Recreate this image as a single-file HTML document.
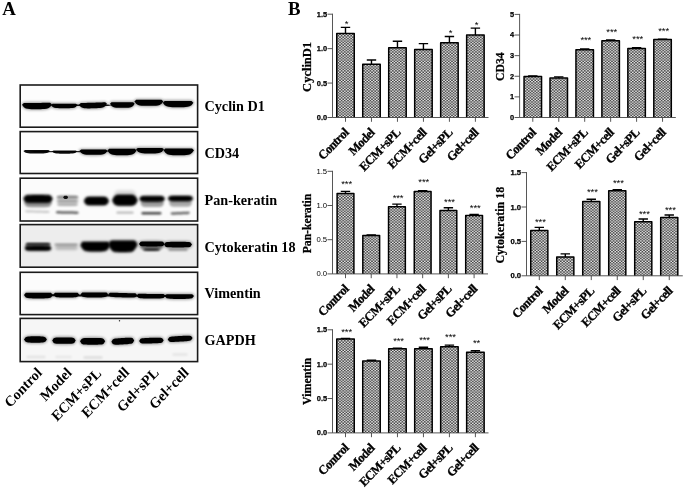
<!DOCTYPE html>
<html><head><meta charset="utf-8"><title>Figure</title>
<style>html,body{margin:0;padding:0;background:#fff}svg{display:block}.s{font-family:"Liberation Serif",serif;font-weight:bold;fill:#000}.a{font-family:"Liberation Sans",sans-serif;font-weight:bold;fill:#000}</style></head><body>
<svg width="685" height="488" viewBox="0 0 685 488">
<defs>
<pattern id="h" width="3.2" height="2.7" patternUnits="userSpaceOnUse"><rect width="3.2" height="2.7" fill="#b0b0b0"/><rect x="0.15" y="0.08" width="1.3" height="1.2" fill="#fff"/><rect x="1.75" y="1.43" width="1.3" height="1.2" fill="#fff"/><rect x="1.75" y="0.08" width="1.3" height="1.2" fill="#161616"/><rect x="0.15" y="1.43" width="1.3" height="1.2" fill="#161616"/></pattern>
<filter id="b0" filterUnits="userSpaceOnUse" x="0" y="60" width="220" height="320"><feGaussianBlur stdDeviation="0.75"/></filter>
<filter id="b1" filterUnits="userSpaceOnUse" x="0" y="60" width="220" height="320"><feGaussianBlur stdDeviation="1.0"/></filter>
<filter id="b2" filterUnits="userSpaceOnUse" x="0" y="60" width="220" height="320"><feGaussianBlur stdDeviation="1.8"/></filter>
<filter id="b3" filterUnits="userSpaceOnUse" x="0" y="60" width="220" height="320"><feGaussianBlur stdDeviation="2.5"/></filter>
</defs>
<rect width="685" height="488" fill="#fff"/>
<text class="s" x="2.2" y="14.6" font-size="18.8">A</text>
<text class="s" x="288.1" y="14.6" font-size="18.8">B</text>
<rect x="20.2" y="85" width="177.4" height="42.2" fill="#fdfdfd"/>
<clipPath id="c0"><rect x="20.2" y="85" width="177.4" height="42.2"/></clipPath>
<g clip-path="url(#c0)">
<path d="M22.0 104.73L23.9 102.99L25.8 102.98L27.6 102.96L29.5 102.95L31.4 102.94L33.2 102.93L35.1 102.91L37.0 102.90L38.9 102.89L40.8 102.88L42.6 102.86L44.5 102.85L46.4 102.84L48.2 102.83L50.1 102.81L52.0 104.53L52.0 104.53L50.1 107.05L48.2 108.23L46.4 108.70L44.5 108.97L42.6 109.11L40.8 109.16L38.9 109.19L37.0 109.20L35.1 109.21L33.2 109.21L31.4 109.18L29.5 109.07L27.6 108.83L25.8 108.38L23.9 107.23L22.0 104.73Z" fill="#000" stroke="#000" stroke-width="1.2" opacity="0.45" filter="url(#b2)"/>
<path d="M22.0 104.73L23.9 102.99L25.8 102.98L27.6 102.96L29.5 102.95L31.4 102.94L33.2 102.93L35.1 102.91L37.0 102.90L38.9 102.89L40.8 102.88L42.6 102.86L44.5 102.85L46.4 102.84L48.2 102.83L50.1 102.81L52.0 104.53L52.0 104.53L50.1 107.05L48.2 108.23L46.4 108.70L44.5 108.97L42.6 109.11L40.8 109.16L38.9 109.19L37.0 109.20L35.1 109.21L33.2 109.21L31.4 109.18L29.5 109.07L27.6 108.83L25.8 108.38L23.9 107.23L22.0 104.73Z" fill="#000" opacity="1" filter="url(#b0)"/>
<path d="M51.0 105.12L52.7 103.80L54.3 103.80L56.0 103.80L57.6 103.80L59.3 103.80L60.9 103.80L62.6 103.80L64.2 103.80L65.9 103.80L67.6 103.80L69.2 103.80L70.9 103.80L72.5 103.80L74.2 103.80L75.8 103.80L77.5 105.12L77.5 105.12L75.8 107.06L74.2 107.64L72.5 107.93L70.9 108.09L69.2 108.17L67.6 108.19L65.9 108.20L64.2 108.20L62.6 108.20L60.9 108.19L59.3 108.17L57.6 108.09L56.0 107.93L54.3 107.64L52.7 107.06L51.0 105.12Z" fill="#000" stroke="#000" stroke-width="1.2" opacity="0.45" filter="url(#b2)"/>
<path d="M51.0 105.12L52.7 103.80L54.3 103.80L56.0 103.80L57.6 103.80L59.3 103.80L60.9 103.80L62.6 103.80L64.2 103.80L65.9 103.80L67.6 103.80L69.2 103.80L70.9 103.80L72.5 103.80L74.2 103.80L75.8 103.80L77.5 105.12L77.5 105.12L75.8 107.06L74.2 107.64L72.5 107.93L70.9 108.09L69.2 108.17L67.6 108.19L65.9 108.20L64.2 108.20L62.6 108.20L60.9 108.19L59.3 108.17L57.6 108.09L56.0 107.93L54.3 107.64L52.7 107.06L51.0 105.12Z" fill="#000" opacity="1" filter="url(#b0)"/>
<path d="M79.0 104.69L80.8 103.09L82.5 103.04L84.2 102.98L86.0 102.92L87.8 102.87L89.5 102.81L91.2 102.76L93.0 102.70L94.8 102.64L96.5 102.59L98.2 102.53L100.0 102.48L101.8 102.42L103.5 102.36L105.2 102.31L107.0 103.79L107.0 103.79L105.2 106.13L103.5 107.17L101.8 107.63L100.0 107.92L98.2 108.08L96.5 108.18L94.8 108.24L93.0 108.30L91.2 108.36L89.5 108.40L87.8 108.42L86.0 108.37L84.2 108.20L82.5 107.84L80.8 106.92L79.0 104.69Z" fill="#000" stroke="#000" stroke-width="1.2" opacity="0.45" filter="url(#b2)"/>
<path d="M79.0 104.69L80.8 103.09L82.5 103.04L84.2 102.98L86.0 102.92L87.8 102.87L89.5 102.81L91.2 102.76L93.0 102.70L94.8 102.64L96.5 102.59L98.2 102.53L100.0 102.48L101.8 102.42L103.5 102.36L105.2 102.31L107.0 103.79L107.0 103.79L105.2 106.13L103.5 107.17L101.8 107.63L100.0 107.92L98.2 108.08L96.5 108.18L94.8 108.24L93.0 108.30L91.2 108.36L89.5 108.40L87.8 108.42L86.0 108.37L84.2 108.20L82.5 107.84L80.8 106.92L79.0 104.69Z" fill="#000" opacity="1" filter="url(#b0)"/>
<path d="M110.0 103.74L111.5 102.20L113.1 102.20L114.6 102.20L116.2 102.20L117.7 102.20L119.2 102.20L120.8 102.20L122.3 102.20L123.8 102.20L125.4 102.20L126.9 102.20L128.4 102.20L130.0 102.20L131.5 102.20L133.1 102.20L134.6 103.74L134.6 103.74L133.1 105.88L131.5 107.00L130.0 107.42L128.4 107.64L126.9 107.75L125.4 107.79L123.8 107.80L122.3 107.80L120.8 107.80L119.2 107.79L117.7 107.75L116.2 107.64L114.6 107.42L113.1 107.00L111.5 105.88L110.0 103.74Z" fill="#000" stroke="#000" stroke-width="1.2" opacity="0.45" filter="url(#b2)"/>
<path d="M110.0 103.74L111.5 102.20L113.1 102.20L114.6 102.20L116.2 102.20L117.7 102.20L119.2 102.20L120.8 102.20L122.3 102.20L123.8 102.20L125.4 102.20L126.9 102.20L128.4 102.20L130.0 102.20L131.5 102.20L133.1 102.20L134.6 103.74L134.6 103.74L133.1 105.88L131.5 107.00L130.0 107.42L128.4 107.64L126.9 107.75L125.4 107.79L123.8 107.80L122.3 107.80L120.8 107.80L119.2 107.79L117.7 107.75L116.2 107.64L114.6 107.42L113.1 107.00L111.5 105.88L110.0 103.74Z" fill="#000" opacity="1" filter="url(#b0)"/>
<path d="M134.4 101.45L136.2 99.80L138.0 99.80L139.8 99.80L141.6 99.80L143.4 99.80L145.2 99.80L147.0 99.80L148.9 99.80L150.7 99.80L152.5 99.80L154.3 99.80L156.1 99.80L157.9 99.80L159.7 99.80L161.5 99.80L163.3 101.45L163.3 101.45L161.5 103.85L159.7 104.95L157.9 105.39L156.1 105.63L154.3 105.75L152.5 105.79L150.7 105.80L148.9 105.80L147.0 105.80L145.2 105.79L143.4 105.75L141.6 105.63L139.8 105.39L138.0 104.95L136.2 103.85L134.4 101.45Z" fill="#000" stroke="#000" stroke-width="1.2" opacity="0.45" filter="url(#b2)"/>
<path d="M134.4 101.45L136.2 99.80L138.0 99.80L139.8 99.80L141.6 99.80L143.4 99.80L145.2 99.80L147.0 99.80L148.9 99.80L150.7 99.80L152.5 99.80L154.3 99.80L156.1 99.80L157.9 99.80L159.7 99.80L161.5 99.80L163.3 101.45L163.3 101.45L161.5 103.85L159.7 104.95L157.9 105.39L156.1 105.63L154.3 105.75L152.5 105.79L150.7 105.80L148.9 105.80L147.0 105.80L145.2 105.79L143.4 105.75L141.6 105.63L139.8 105.39L138.0 104.95L136.2 103.85L134.4 101.45Z" fill="#000" opacity="1" filter="url(#b0)"/>
<path d="M162.8 102.63L164.7 100.90L166.6 100.90L168.5 100.90L170.5 100.90L172.4 100.90L174.3 100.90L176.2 100.90L178.1 100.90L180.0 100.90L181.9 100.90L183.8 100.90L185.8 100.90L187.7 100.90L189.6 100.90L191.5 100.90L193.4 102.63L193.4 102.63L191.5 105.17L189.6 106.30L187.7 106.77L185.8 107.02L183.8 107.14L181.9 107.19L180.0 107.20L178.1 107.20L176.2 107.20L174.3 107.19L172.4 107.14L170.5 107.02L168.5 106.77L166.6 106.30L164.7 105.17L162.8 102.63Z" fill="#000" stroke="#000" stroke-width="1.2" opacity="0.45" filter="url(#b2)"/>
<path d="M162.8 102.63L164.7 100.90L166.6 100.90L168.5 100.90L170.5 100.90L172.4 100.90L174.3 100.90L176.2 100.90L178.1 100.90L180.0 100.90L181.9 100.90L183.8 100.90L185.8 100.90L187.7 100.90L189.6 100.90L191.5 100.90L193.4 102.63L193.4 102.63L191.5 105.17L189.6 106.30L187.7 106.77L185.8 107.02L183.8 107.14L181.9 107.19L180.0 107.20L178.1 107.20L176.2 107.20L174.3 107.19L172.4 107.14L170.5 107.02L168.5 106.77L166.6 106.30L164.7 105.17L162.8 102.63Z" fill="#000" opacity="1" filter="url(#b0)"/>
<path d="M50.0 105.20L53.9 104.40L57.8 104.40L61.6 104.40L65.5 104.40L69.4 104.40L73.2 104.40L77.1 104.40L81.0 104.40L84.9 104.40L88.8 104.40L92.6 104.40L96.5 104.40L100.4 104.40L104.2 104.40L108.1 104.40L112.0 105.20L112.0 105.20L108.1 106.00L104.2 106.00L100.4 106.00L96.5 106.00L92.6 106.00L88.8 106.00L84.9 106.00L81.0 106.00L77.1 106.00L73.2 106.00L69.4 106.00L65.5 106.00L61.6 106.00L57.8 106.00L53.9 106.00L50.0 105.20Z" fill="#000" opacity="0.9" filter="url(#b0)"/>
</g>
<rect x="20.2" y="85" width="177.4" height="42.2" fill="none" stroke="#1a1a1a" stroke-width="1.6"/>
<text class="s" transform="translate(204.5,111.4) scale(1,1.06)" font-size="14.2">Cyclin D1</text>
<rect x="20.2" y="131.6" width="177.4" height="41.900000000000006" fill="#fdfdfd"/>
<clipPath id="c1"><rect x="20.2" y="131.6" width="177.4" height="41.900000000000006"/></clipPath>
<g clip-path="url(#c1)">
<path d="M23.4 150.96L25.1 150.00L26.7 150.00L28.4 150.00L30.0 150.00L31.7 150.00L33.4 150.00L35.0 150.00L36.7 150.00L38.4 150.00L40.0 150.00L41.7 150.00L43.4 150.00L45.0 150.00L46.7 150.00L48.3 150.00L50.0 150.96L50.0 150.96L48.3 152.57L46.7 153.00L45.0 153.26L43.4 153.40L41.7 153.47L40.0 153.49L38.4 153.50L36.7 153.50L35.0 153.50L33.4 153.49L31.7 153.47L30.0 153.40L28.4 153.26L26.7 153.00L25.1 152.57L23.4 150.96Z" fill="#000" opacity="0.95" filter="url(#b0)"/>
<path d="M52.0 151.31L53.6 150.40L55.1 150.40L56.7 150.40L58.3 150.40L59.9 150.40L61.5 150.40L63.0 150.40L64.6 150.40L66.2 150.40L67.8 150.40L69.3 150.40L70.9 150.40L72.5 150.40L74.1 150.40L75.6 150.40L77.2 151.31L77.2 151.31L75.6 152.83L74.1 153.23L72.5 153.47L70.9 153.61L69.3 153.67L67.8 153.69L66.2 153.70L64.6 153.70L63.0 153.70L61.5 153.69L59.9 153.67L58.3 153.61L56.7 153.47L55.1 153.23L53.6 152.83L52.0 151.31Z" fill="#000" opacity="0.95" filter="url(#b0)"/>
<path d="M79.5 150.82L81.3 149.50L83.0 149.50L84.8 149.50L86.5 149.50L88.3 149.50L90.0 149.50L91.8 149.50L93.5 149.50L95.3 149.50L97.1 149.50L98.8 149.50L100.6 149.50L102.3 149.50L104.1 149.50L105.8 149.50L107.6 150.82L107.6 150.82L105.8 153.03L104.1 153.96L102.3 154.40L100.6 154.63L98.8 154.75L97.1 154.79L95.3 154.80L93.5 154.80L91.8 154.80L90.0 154.79L88.3 154.75L86.5 154.63L84.8 154.40L83.0 153.96L81.3 153.03L79.5 150.82Z" fill="#000" stroke="#000" stroke-width="1.2" opacity="0.45" filter="url(#b2)"/>
<path d="M79.5 150.82L81.3 149.50L83.0 149.50L84.8 149.50L86.5 149.50L88.3 149.50L90.0 149.50L91.8 149.50L93.5 149.50L95.3 149.50L97.1 149.50L98.8 149.50L100.6 149.50L102.3 149.50L104.1 149.50L105.8 149.50L107.6 150.82L107.6 150.82L105.8 153.03L104.1 153.96L102.3 154.40L100.6 154.63L98.8 154.75L97.1 154.79L95.3 154.80L93.5 154.80L91.8 154.80L90.0 154.79L88.3 154.75L86.5 154.63L84.8 154.40L83.0 153.96L81.3 153.03L79.5 150.82Z" fill="#000" opacity="1" filter="url(#b0)"/>
<path d="M107.4 150.40L109.2 148.80L111.1 148.80L112.9 148.80L114.7 148.80L116.5 148.80L118.3 148.80L120.2 148.80L122.0 148.80L123.8 148.80L125.7 148.80L127.5 148.80L129.3 148.80L131.1 148.80L132.9 148.80L134.8 148.80L136.6 150.40L136.6 150.40L134.8 152.89L132.9 154.19L131.1 154.71L129.3 155.00L127.5 155.14L125.7 155.19L123.8 155.20L122.0 155.20L120.2 155.20L118.3 155.19L116.5 155.14L114.7 155.00L112.9 154.71L111.1 154.19L109.2 152.89L107.4 150.40Z" fill="#000" stroke="#000" stroke-width="1.2" opacity="0.45" filter="url(#b2)"/>
<path d="M107.4 150.40L109.2 148.80L111.1 148.80L112.9 148.80L114.7 148.80L116.5 148.80L118.3 148.80L120.2 148.80L122.0 148.80L123.8 148.80L125.7 148.80L127.5 148.80L129.3 148.80L131.1 148.80L132.9 148.80L134.8 148.80L136.6 150.40L136.6 150.40L134.8 152.89L132.9 154.19L131.1 154.71L129.3 155.00L127.5 155.14L125.7 155.19L123.8 155.20L122.0 155.20L120.2 155.20L118.3 155.19L116.5 155.14L114.7 155.00L112.9 154.71L111.1 154.19L109.2 152.89L107.4 150.40Z" fill="#000" opacity="1" filter="url(#b0)"/>
<path d="M136.0 149.30L137.8 147.90L139.5 147.90L141.2 147.90L143.0 147.90L144.8 147.90L146.5 147.90L148.2 147.90L150.0 147.90L151.8 147.90L153.5 147.90L155.2 147.90L157.0 147.90L158.8 147.90L160.5 147.90L162.2 147.90L164.0 149.30L164.0 149.30L162.2 151.57L160.5 152.61L158.8 153.07L157.0 153.33L155.2 153.44L153.5 153.49L151.8 153.50L150.0 153.50L148.2 153.50L146.5 153.49L144.8 153.44L143.0 153.33L141.2 153.07L139.5 152.61L137.8 151.57L136.0 149.30Z" fill="#000" stroke="#000" stroke-width="1.2" opacity="0.45" filter="url(#b2)"/>
<path d="M136.0 149.30L137.8 147.90L139.5 147.90L141.2 147.90L143.0 147.90L144.8 147.90L146.5 147.90L148.2 147.90L150.0 147.90L151.8 147.90L153.5 147.90L155.2 147.90L157.0 147.90L158.8 147.90L160.5 147.90L162.2 147.90L164.0 149.30L164.0 149.30L162.2 151.57L160.5 152.61L158.8 153.07L157.0 153.33L155.2 153.44L153.5 153.49L151.8 153.50L150.0 153.50L148.2 153.50L146.5 153.49L144.8 153.44L143.0 153.33L141.2 153.07L139.5 152.61L137.8 151.57L136.0 149.30Z" fill="#000" opacity="1" filter="url(#b0)"/>
<path d="M163.5 150.18L165.4 148.50L167.3 148.50L169.2 148.50L171.1 148.50L173.0 148.50L174.9 148.50L176.8 148.50L178.8 148.50L180.7 148.50L182.6 148.50L184.5 148.50L186.4 148.50L188.3 148.50L190.2 148.50L192.1 148.50L194.0 150.18L194.0 150.18L192.1 152.77L190.2 154.14L188.3 154.69L186.4 154.99L184.5 155.13L182.6 155.19L180.7 155.20L178.8 155.20L176.8 155.20L174.9 155.19L173.0 155.13L171.1 154.99L169.2 154.69L167.3 154.14L165.4 152.77L163.5 150.18Z" fill="#000" stroke="#000" stroke-width="1.2" opacity="0.45" filter="url(#b2)"/>
<path d="M163.5 150.18L165.4 148.50L167.3 148.50L169.2 148.50L171.1 148.50L173.0 148.50L174.9 148.50L176.8 148.50L178.8 148.50L180.7 148.50L182.6 148.50L184.5 148.50L186.4 148.50L188.3 148.50L190.2 148.50L192.1 148.50L194.0 150.18L194.0 150.18L192.1 152.77L190.2 154.14L188.3 154.69L186.4 154.99L184.5 155.13L182.6 155.19L180.7 155.20L178.8 155.20L176.8 155.20L174.9 155.19L173.0 155.13L171.1 154.99L169.2 154.69L167.3 154.14L165.4 152.77L163.5 150.18Z" fill="#000" opacity="1" filter="url(#b0)"/>
<path d="M30.0 151.60L35.0 150.90L40.0 150.90L45.0 150.90L50.0 150.90L55.0 150.90L60.0 150.90L65.0 150.90L70.0 150.90L75.0 150.90L80.0 150.90L85.0 150.90L90.0 150.90L95.0 150.90L100.0 150.90L105.0 150.90L110.0 151.60L110.0 151.60L105.0 152.30L100.0 152.30L95.0 152.30L90.0 152.30L85.0 152.30L80.0 152.30L75.0 152.30L70.0 152.30L65.0 152.30L60.0 152.30L55.0 152.30L50.0 152.30L45.0 152.30L40.0 152.30L35.0 152.30L30.0 151.60Z" fill="#000" opacity="0.85" filter="url(#b0)"/>
</g>
<rect x="20.2" y="131.6" width="177.4" height="41.900000000000006" fill="none" stroke="#1a1a1a" stroke-width="1.6"/>
<text class="s" transform="translate(204.5,157.9) scale(1,1.06)" font-size="14.2">CD34</text>
<rect x="20.2" y="178.2" width="177.4" height="42.80000000000001" fill="#fbfbfb"/>
<clipPath id="c2"><rect x="20.2" y="178.2" width="177.4" height="42.80000000000001"/></clipPath>
<g clip-path="url(#c2)">
<path d="M23.6 198.80L25.4 196.00L27.2 195.34L29.0 195.21L30.8 195.15L32.6 195.11L34.4 195.10L36.2 195.10L38.0 195.10L39.8 195.10L41.6 195.10L43.4 195.11L45.2 195.15L47.0 195.21L48.8 195.34L50.6 196.00L52.4 198.80L52.4 198.80L50.6 201.60L48.8 202.26L47.0 202.39L45.2 202.45L43.4 202.49L41.6 202.50L39.8 202.50L38.0 202.50L36.2 202.50L34.4 202.50L32.6 202.49L30.8 202.45L29.0 202.39L27.2 202.26L25.4 201.60L23.6 198.80Z" fill="#000" stroke="#000" stroke-width="1.2" opacity="0.45" filter="url(#b2)"/>
<path d="M23.6 198.80L25.4 196.00L27.2 195.34L29.0 195.21L30.8 195.15L32.6 195.11L34.4 195.10L36.2 195.10L38.0 195.10L39.8 195.10L41.6 195.10L43.4 195.11L45.2 195.15L47.0 195.21L48.8 195.34L50.6 196.00L52.4 198.80L52.4 198.80L50.6 201.60L48.8 202.26L47.0 202.39L45.2 202.45L43.4 202.49L41.6 202.50L39.8 202.50L38.0 202.50L36.2 202.50L34.4 202.50L32.6 202.49L30.8 202.45L29.0 202.39L27.2 202.26L25.4 201.60L23.6 198.80Z" fill="#000" opacity="1" filter="url(#b1)"/>
<path d="M24.0 203.00L25.8 199.97L27.5 199.08L29.2 198.88L31.0 198.80L32.8 198.77L34.5 198.75L36.2 198.75L38.0 198.75L39.8 198.75L41.5 198.75L43.2 198.77L45.0 198.80L46.8 198.88L48.5 199.08L50.2 199.97L52.0 203.00L52.0 203.00L50.2 206.03L48.5 206.92L46.8 207.12L45.0 207.20L43.2 207.23L41.5 207.25L39.8 207.25L38.0 207.25L36.2 207.25L34.5 207.25L32.8 207.23L31.0 207.20L29.2 207.12L27.5 206.92L25.8 206.03L24.0 203.00Z" fill="#000" opacity="0.42" filter="url(#b1)"/>
<path d="M56.5 197.10L57.9 195.80L59.2 195.80L60.6 195.80L62.0 195.80L63.4 195.80L64.8 195.80L66.1 195.80L67.5 195.80L68.9 195.80L70.2 195.80L71.6 195.80L73.0 195.80L74.4 195.80L75.8 195.80L77.1 195.80L78.5 197.10L78.5 197.10L77.1 198.40L75.8 198.40L74.4 198.40L73.0 198.40L71.6 198.40L70.2 198.40L68.9 198.40L67.5 198.40L66.1 198.40L64.8 198.40L63.4 198.40L62.0 198.40L60.6 198.40L59.2 198.40L57.9 198.40L56.5 197.10Z" fill="#000" opacity="0.42" filter="url(#b1)"/>
<path d="M57.0 201.20L58.3 200.05L59.6 200.05L60.9 200.05L62.2 200.05L63.6 200.05L64.9 200.05L66.2 200.05L67.5 200.05L68.8 200.05L70.1 200.05L71.4 200.05L72.8 200.05L74.1 200.05L75.4 200.05L76.7 200.05L78.0 201.20L78.0 201.20L76.7 202.35L75.4 202.35L74.1 202.35L72.8 202.35L71.4 202.35L70.1 202.35L68.8 202.35L67.5 202.35L66.2 202.35L64.9 202.35L63.6 202.35L62.2 202.35L60.9 202.35L59.6 202.35L58.3 202.35L57.0 201.20Z" fill="#000" opacity="0.3" filter="url(#b1)"/>
<path d="M57.0 204.60L58.3 203.45L59.6 203.45L60.9 203.45L62.2 203.45L63.6 203.45L64.9 203.45L66.2 203.45L67.5 203.45L68.8 203.45L70.1 203.45L71.4 203.45L72.8 203.45L74.1 203.45L75.4 203.45L76.7 203.45L78.0 204.60L78.0 204.60L76.7 205.75L75.4 205.75L74.1 205.75L72.8 205.75L71.4 205.75L70.1 205.75L68.8 205.75L67.5 205.75L66.2 205.75L64.9 205.75L63.6 205.75L62.2 205.75L60.9 205.75L59.6 205.75L58.3 205.75L57.0 204.60Z" fill="#000" opacity="0.28" filter="url(#b1)"/>
<path d="M56.0 200.50L57.4 197.40L58.9 196.26L60.3 195.70L61.8 195.56L63.2 195.52L64.6 195.50L66.1 195.50L67.5 195.50L68.9 195.50L70.4 195.50L71.8 195.52L73.2 195.56L74.7 195.70L76.1 196.26L77.6 197.40L79.0 200.50L79.0 200.50L77.6 203.60L76.1 204.74L74.7 205.30L73.2 205.44L71.8 205.48L70.4 205.50L68.9 205.50L67.5 205.50L66.1 205.50L64.6 205.50L63.2 205.48L61.8 205.44L60.3 205.30L58.9 204.74L57.4 203.60L56.0 200.50Z" fill="#000" opacity="0.12" filter="url(#b2)"/>
<path d="M63.4 197.30L63.7 196.39L64.0 196.08L64.2 195.89L64.5 195.77L64.8 195.71L65.1 195.70L65.4 195.70L65.7 195.70L65.9 195.70L66.2 195.70L66.5 195.71L66.8 195.77L67.1 195.89L67.3 196.08L67.6 196.39L67.9 197.30L67.9 197.30L67.6 198.21L67.3 198.52L67.1 198.71L66.8 198.83L66.5 198.89L66.2 198.90L65.9 198.90L65.7 198.90L65.4 198.90L65.1 198.90L64.8 198.89L64.5 198.83L64.2 198.71L64.0 198.52L63.7 198.21L63.4 197.30Z" fill="#000" opacity="0.9" filter="url(#b0)"/>
<path d="M84.2 201.00L85.7 198.18L87.2 197.29L88.8 197.03L90.3 196.95L91.8 196.92L93.3 196.90L94.9 196.90L96.4 196.90L97.9 196.90L99.5 196.90L101.0 196.92L102.5 196.95L104.0 197.03L105.5 197.29L107.1 198.18L108.6 201.00L108.6 201.00L107.1 203.82L105.5 204.71L104.0 204.97L102.5 205.05L101.0 205.08L99.5 205.10L97.9 205.10L96.4 205.10L94.9 205.10L93.3 205.10L91.8 205.08L90.3 205.05L88.8 204.97L87.2 204.71L85.7 203.82L84.2 201.00Z" fill="#000" stroke="#000" stroke-width="1.2" opacity="0.45" filter="url(#b2)"/>
<path d="M84.2 201.00L85.7 198.18L87.2 197.29L88.8 197.03L90.3 196.95L91.8 196.92L93.3 196.90L94.9 196.90L96.4 196.90L97.9 196.90L99.5 196.90L101.0 196.92L102.5 196.95L104.0 197.03L105.5 197.29L107.1 198.18L108.6 201.00L108.6 201.00L107.1 203.82L105.5 204.71L104.0 204.97L102.5 205.05L101.0 205.08L99.5 205.10L97.9 205.10L96.4 205.10L94.9 205.10L93.3 205.10L91.8 205.08L90.3 205.05L88.8 204.97L87.2 204.71L85.7 203.82L84.2 201.00Z" fill="#000" opacity="1" filter="url(#b1)"/>
<path d="M112.6 200.20L114.1 196.90L115.7 195.69L117.2 195.11L118.8 194.97L120.3 194.92L121.8 194.90L123.4 194.90L124.9 194.90L126.4 194.90L128.0 194.90L129.5 194.92L131.0 194.97L132.6 195.11L134.1 195.69L135.7 196.90L137.2 200.20L137.2 200.20L135.7 203.50L134.1 204.71L132.6 205.29L131.0 205.43L129.5 205.48L128.0 205.50L126.4 205.50L124.9 205.50L123.4 205.50L121.8 205.50L120.3 205.48L118.8 205.43L117.2 205.29L115.7 204.71L114.1 203.50L112.6 200.20Z" fill="#000" stroke="#000" stroke-width="1.2" opacity="0.45" filter="url(#b2)"/>
<path d="M112.6 200.20L114.1 196.90L115.7 195.69L117.2 195.11L118.8 194.97L120.3 194.92L121.8 194.90L123.4 194.90L124.9 194.90L126.4 194.90L128.0 194.90L129.5 194.92L131.0 194.97L132.6 195.11L134.1 195.69L135.7 196.90L137.2 200.20L137.2 200.20L135.7 203.50L134.1 204.71L132.6 205.29L131.0 205.43L129.5 205.48L128.0 205.50L126.4 205.50L124.9 205.50L123.4 205.50L121.8 205.50L120.3 205.48L118.8 205.43L117.2 205.29L115.7 204.71L114.1 203.50L112.6 200.20Z" fill="#000" opacity="1" filter="url(#b1)"/>
<path d="M114.0 194.00L115.4 191.34L116.8 190.44L118.1 190.12L119.5 190.05L120.9 190.02L122.2 190.00L123.6 190.00L125.0 190.00L126.4 190.00L127.8 190.00L129.1 190.02L130.5 190.05L131.9 190.12L133.2 190.44L134.6 191.34L136.0 194.00L136.0 194.00L134.6 196.66L133.2 197.56L131.9 197.88L130.5 197.95L129.1 197.98L127.8 198.00L126.4 198.00L125.0 198.00L123.6 198.00L122.2 198.00L120.9 197.98L119.5 197.95L118.1 197.88L116.8 197.56L115.4 196.66L114.0 194.00Z" fill="#000" opacity="0.12" filter="url(#b2)"/>
<path d="M139.6 198.80L141.2 196.67L142.7 196.32L144.3 196.23L145.8 196.18L147.4 196.16L149.0 196.15L150.5 196.15L152.1 196.15L153.7 196.15L155.2 196.15L156.8 196.16L158.3 196.18L159.9 196.23L161.5 196.32L163.0 196.67L164.6 198.80L164.6 198.80L163.0 200.93L161.5 201.28L159.9 201.37L158.3 201.42L156.8 201.44L155.2 201.45L153.7 201.45L152.1 201.45L150.5 201.45L149.0 201.45L147.4 201.44L145.8 201.42L144.3 201.37L142.7 201.28L141.2 200.93L139.6 198.80Z" fill="#000" stroke="#000" stroke-width="1.2" opacity="0.45" filter="url(#b2)"/>
<path d="M139.6 198.80L141.2 196.67L142.7 196.32L144.3 196.23L145.8 196.18L147.4 196.16L149.0 196.15L150.5 196.15L152.1 196.15L153.7 196.15L155.2 196.15L156.8 196.16L158.3 196.18L159.9 196.23L161.5 196.32L163.0 196.67L164.6 198.80L164.6 198.80L163.0 200.93L161.5 201.28L159.9 201.37L158.3 201.42L156.8 201.44L155.2 201.45L153.7 201.45L152.1 201.45L150.5 201.45L149.0 201.45L147.4 201.44L145.8 201.42L144.3 201.37L142.7 201.28L141.2 200.93L139.6 198.80Z" fill="#000" opacity="1" filter="url(#b1)"/>
<path d="M140.5 203.50L142.0 200.98L143.4 200.26L144.9 200.11L146.4 200.04L147.8 200.01L149.3 200.00L150.8 200.00L152.2 200.00L153.7 200.00L155.2 200.00L156.7 200.01L158.1 200.04L159.6 200.11L161.1 200.26L162.5 200.98L164.0 203.50L164.0 203.50L162.5 206.02L161.1 206.74L159.6 206.89L158.1 206.96L156.7 206.99L155.2 207.00L153.7 207.00L152.2 207.00L150.8 207.00L149.3 207.00L147.8 206.99L146.4 206.96L144.9 206.89L143.4 206.74L142.0 206.02L140.5 203.50Z" fill="#000" opacity="0.36" filter="url(#b1)"/>
<path d="M168.2 198.50L169.7 196.46L171.3 196.16L172.8 196.08L174.3 196.03L175.9 196.01L177.4 196.00L179.0 196.00L180.5 196.00L182.0 196.00L183.6 196.00L185.1 196.01L186.7 196.03L188.2 196.08L189.7 196.16L191.3 196.46L192.8 198.50L192.8 198.50L191.3 200.54L189.7 200.84L188.2 200.92L186.7 200.97L185.1 200.99L183.6 201.00L182.0 201.00L180.5 201.00L179.0 201.00L177.4 201.00L175.9 200.99L174.3 200.97L172.8 200.92L171.3 200.84L169.7 200.54L168.2 198.50Z" fill="#000" stroke="#000" stroke-width="1.2" opacity="0.45" filter="url(#b2)"/>
<path d="M168.2 198.50L169.7 196.46L171.3 196.16L172.8 196.08L174.3 196.03L175.9 196.01L177.4 196.00L179.0 196.00L180.5 196.00L182.0 196.00L183.6 196.00L185.1 196.01L186.7 196.03L188.2 196.08L189.7 196.16L191.3 196.46L192.8 198.50L192.8 198.50L191.3 200.54L189.7 200.84L188.2 200.92L186.7 200.97L185.1 200.99L183.6 201.00L182.0 201.00L180.5 201.00L179.0 201.00L177.4 201.00L175.9 200.99L174.3 200.97L172.8 200.92L171.3 200.84L169.7 200.54L168.2 198.50Z" fill="#000" opacity="1" filter="url(#b1)"/>
<path d="M169.0 203.30L170.4 200.80L171.9 200.07L173.3 199.91L174.8 199.84L176.2 199.81L177.6 199.80L179.1 199.80L180.5 199.80L181.9 199.80L183.4 199.80L184.8 199.81L186.2 199.84L187.7 199.91L189.1 200.07L190.6 200.80L192.0 203.30L192.0 203.30L190.6 205.80L189.1 206.53L187.7 206.69L186.2 206.76L184.8 206.79L183.4 206.80L181.9 206.80L180.5 206.80L179.1 206.80L177.6 206.80L176.2 206.79L174.8 206.76L173.3 206.69L171.9 206.53L170.4 205.80L169.0 203.30Z" fill="#000" opacity="0.32" filter="url(#b1)"/>
<path d="M24.5 211.20L26.1 210.15L27.7 210.20L29.3 210.25L30.9 210.30L32.5 210.35L34.1 210.40L35.7 210.45L37.2 210.50L38.8 210.55L40.4 210.60L42.0 210.65L43.6 210.70L45.2 210.75L46.8 210.80L48.4 210.85L50.0 212.00L50.0 212.00L48.4 213.05L46.8 213.00L45.2 212.95L43.6 212.90L42.0 212.85L40.4 212.80L38.8 212.75L37.2 212.70L35.7 212.65L34.1 212.60L32.5 212.55L30.9 212.50L29.3 212.45L27.7 212.40L26.1 212.35L24.5 211.20Z" fill="#000" opacity="0.2" filter="url(#b1)"/>
<path d="M55.5 212.30L57.0 211.07L58.4 211.10L59.9 211.12L61.4 211.15L62.8 211.18L64.3 211.20L65.8 211.22L67.2 211.25L68.7 211.28L70.2 211.30L71.7 211.32L73.1 211.35L74.6 211.38L76.1 211.40L77.5 211.43L79.0 212.70L79.0 212.70L77.5 213.93L76.1 213.90L74.6 213.88L73.1 213.85L71.7 213.82L70.2 213.80L68.7 213.78L67.2 213.75L65.8 213.72L64.3 213.70L62.8 213.68L61.4 213.65L59.9 213.62L58.4 213.60L57.0 213.57L55.5 212.30Z" fill="#000" opacity="0.6" filter="url(#b1)"/>
<path d="M116.0 212.60L117.1 211.40L118.2 211.40L119.4 211.40L120.5 211.40L121.6 211.40L122.8 211.40L123.9 211.40L125.0 211.40L126.1 211.40L127.2 211.40L128.4 211.40L129.5 211.40L130.6 211.40L131.8 211.40L132.9 211.40L134.0 212.60L134.0 212.60L132.9 213.80L131.8 213.80L130.6 213.80L129.5 213.80L128.4 213.80L127.2 213.80L126.1 213.80L125.0 213.80L123.9 213.80L122.8 213.80L121.6 213.80L120.5 213.80L119.4 213.80L118.2 213.80L117.1 213.80L116.0 212.60Z" fill="#000" opacity="0.25" filter="url(#b1)"/>
<path d="M141.0 213.20L142.3 211.90L143.6 211.90L144.9 211.90L146.2 211.90L147.5 211.90L148.8 211.90L150.1 211.90L151.4 211.90L152.7 211.90L154.0 211.90L155.3 211.90L156.6 211.90L157.9 211.90L159.2 211.90L160.5 211.90L161.8 213.20L161.8 213.20L160.5 214.50L159.2 214.50L157.9 214.50L156.6 214.50L155.3 214.50L154.0 214.50L152.7 214.50L151.4 214.50L150.1 214.50L148.8 214.50L147.5 214.50L146.2 214.50L144.9 214.50L143.6 214.50L142.3 214.50L141.0 213.20Z" fill="#000" opacity="0.72" filter="url(#b1)"/>
<path d="M170.4 213.60L171.6 212.30L172.8 212.25L174.1 212.20L175.3 212.15L176.5 212.10L177.8 212.05L179.0 212.00L180.2 211.95L181.4 211.90L182.7 211.85L183.9 211.80L185.1 211.75L186.3 211.70L187.6 211.65L188.8 211.60L190.0 212.80L190.0 212.80L188.8 214.10L187.6 214.15L186.3 214.20L185.1 214.25L183.9 214.30L182.7 214.35L181.4 214.40L180.2 214.45L179.0 214.50L177.8 214.55L176.5 214.60L175.3 214.65L174.1 214.70L172.8 214.75L171.6 214.80L170.4 213.60Z" fill="#000" opacity="0.58" filter="url(#b1)"/>
</g>
<rect x="20.2" y="178.2" width="177.4" height="42.80000000000001" fill="none" stroke="#1a1a1a" stroke-width="1.6"/>
<text class="s" transform="translate(204.5,204.9) scale(1,1.06)" font-size="14.2">Pan-keratin</text>
<rect x="20.2" y="224.6" width="177.4" height="42.599999999999994" fill="#ededed"/>
<clipPath id="c3"><rect x="20.2" y="224.6" width="177.4" height="42.599999999999994"/></clipPath>
<g clip-path="url(#c3)">
<path d="M25.5 244.10L27.1 242.90L28.7 242.90L30.3 242.90L31.9 242.90L33.5 242.90L35.1 242.90L36.7 242.90L38.2 242.90L39.8 242.90L41.4 242.90L43.0 242.90L44.6 242.90L46.2 242.90L47.8 242.90L49.4 242.90L51.0 244.10L51.0 244.10L49.4 245.30L47.8 245.30L46.2 245.30L44.6 245.30L43.0 245.30L41.4 245.30L39.8 245.30L38.2 245.30L36.7 245.30L35.1 245.30L33.5 245.30L31.9 245.30L30.3 245.30L28.7 245.30L27.1 245.30L25.5 244.10Z" fill="#000" opacity="0.8" filter="url(#b1)"/>
<path d="M25.0 248.30L26.6 246.42L28.3 246.24L29.9 246.17L31.6 246.13L33.2 246.11L34.8 246.10L36.5 246.10L38.1 246.10L39.7 246.10L41.4 246.10L43.0 246.11L44.7 246.13L46.3 246.17L47.9 246.24L49.6 246.42L51.2 248.30L51.2 248.30L49.6 250.18L47.9 250.36L46.3 250.43L44.7 250.47L43.0 250.49L41.4 250.50L39.7 250.50L38.1 250.50L36.5 250.50L34.8 250.50L33.2 250.49L31.6 250.47L29.9 250.43L28.3 250.36L26.6 250.18L25.0 248.30Z" fill="#000" stroke="#000" stroke-width="1.2" opacity="0.45" filter="url(#b2)"/>
<path d="M25.0 248.30L26.6 246.42L28.3 246.24L29.9 246.17L31.6 246.13L33.2 246.11L34.8 246.10L36.5 246.10L38.1 246.10L39.7 246.10L41.4 246.10L43.0 246.11L44.7 246.13L46.3 246.17L47.9 246.24L49.6 246.42L51.2 248.30L51.2 248.30L49.6 250.18L47.9 250.36L46.3 250.43L44.7 250.47L43.0 250.49L41.4 250.50L39.7 250.50L38.1 250.50L36.5 250.50L34.8 250.50L33.2 250.49L31.6 250.47L29.9 250.43L28.3 250.36L26.6 250.18L25.0 248.30Z" fill="#000" opacity="1" filter="url(#b1)"/>
<path d="M25.0 246.00L26.6 243.37L28.1 243.00L29.7 243.00L31.2 243.00L32.8 243.00L34.4 243.00L35.9 243.00L37.5 243.00L39.1 243.00L40.6 243.00L42.2 243.00L43.8 243.00L45.3 243.00L46.9 243.00L48.4 243.37L50.0 246.00L50.0 246.00L48.4 248.63L46.9 249.00L45.3 249.00L43.8 249.00L42.2 249.00L40.6 249.00L39.1 249.00L37.5 249.00L35.9 249.00L34.4 249.00L32.8 249.00L31.2 249.00L29.7 249.00L28.1 249.00L26.6 248.63L25.0 246.00Z" fill="#000" opacity="0.45" filter="url(#b1)"/>
<path d="M54.0 244.50L55.5 243.40L57.0 243.40L58.6 243.40L60.1 243.40L61.6 243.40L63.2 243.40L64.7 243.40L66.2 243.40L67.7 243.40L69.2 243.40L70.8 243.40L72.3 243.40L73.8 243.40L75.4 243.40L76.9 243.40L78.4 244.50L78.4 244.50L76.9 245.60L75.4 245.60L73.8 245.60L72.3 245.60L70.8 245.60L69.2 245.60L67.7 245.60L66.2 245.60L64.7 245.60L63.2 245.60L61.6 245.60L60.1 245.60L58.6 245.60L57.0 245.60L55.5 245.60L54.0 244.50Z" fill="#000" opacity="0.35" filter="url(#b1)"/>
<path d="M55.0 247.60L56.4 245.34L57.9 245.10L59.3 245.10L60.8 245.10L62.2 245.10L63.6 245.10L65.1 245.10L66.5 245.10L67.9 245.10L69.4 245.10L70.8 245.10L72.2 245.10L73.7 245.10L75.1 245.10L76.6 245.34L78.0 247.60L78.0 247.60L76.6 249.86L75.1 250.10L73.7 250.10L72.2 250.10L70.8 250.10L69.4 250.10L67.9 250.10L66.5 250.10L65.1 250.10L63.6 250.10L62.2 250.10L60.8 250.10L59.3 250.10L57.9 250.10L56.4 249.86L55.0 247.60Z" fill="#000" opacity="0.22" filter="url(#b2)"/>
<path d="M80.7 245.19L82.5 242.12L84.4 241.90L86.2 241.90L88.0 241.90L89.9 241.90L91.7 241.90L93.5 241.90L95.3 241.90L97.2 241.90L99.0 241.90L100.8 241.90L102.7 241.90L104.5 241.90L106.3 241.90L108.2 242.12L110.0 245.19L110.0 245.19L108.2 248.26L106.3 250.20L104.5 250.87L102.7 251.12L100.8 251.24L99.0 251.29L97.2 251.30L95.3 251.30L93.5 251.30L91.7 251.29L89.9 251.24L88.0 251.12L86.2 250.87L84.4 250.20L82.5 248.26L80.7 245.19Z" fill="#000" stroke="#000" stroke-width="1.2" opacity="0.45" filter="url(#b2)"/>
<path d="M80.7 245.19L82.5 242.12L84.4 241.90L86.2 241.90L88.0 241.90L89.9 241.90L91.7 241.90L93.5 241.90L95.3 241.90L97.2 241.90L99.0 241.90L100.8 241.90L102.7 241.90L104.5 241.90L106.3 241.90L108.2 242.12L110.0 245.19L110.0 245.19L108.2 248.26L106.3 250.20L104.5 250.87L102.7 251.12L100.8 251.24L99.0 251.29L97.2 251.30L95.3 251.30L93.5 251.30L91.7 251.29L89.9 251.24L88.0 251.12L86.2 250.87L84.4 250.20L82.5 248.26L80.7 245.19Z" fill="#000" opacity="1" filter="url(#b1)"/>
<path d="M108.6 244.62L110.4 241.24L112.2 240.70L114.0 240.70L115.8 240.70L117.5 240.70L119.3 240.70L121.1 240.70L122.9 240.70L124.7 240.70L126.5 240.70L128.3 240.70L130.0 240.70L131.8 240.70L133.6 240.70L135.4 241.24L137.2 244.62L137.2 244.62L135.4 248.00L133.6 250.15L131.8 251.38L130.0 251.69L128.3 251.83L126.5 251.89L124.7 251.90L122.9 251.90L121.1 251.90L119.3 251.89L117.5 251.83L115.8 251.69L114.0 251.38L112.2 250.15L110.4 248.00L108.6 244.62Z" fill="#000" stroke="#000" stroke-width="1.2" opacity="0.45" filter="url(#b2)"/>
<path d="M108.6 244.62L110.4 241.24L112.2 240.70L114.0 240.70L115.8 240.70L117.5 240.70L119.3 240.70L121.1 240.70L122.9 240.70L124.7 240.70L126.5 240.70L128.3 240.70L130.0 240.70L131.8 240.70L133.6 240.70L135.4 241.24L137.2 244.62L137.2 244.62L135.4 248.00L133.6 250.15L131.8 251.38L130.0 251.69L128.3 251.83L126.5 251.89L124.7 251.90L122.9 251.90L121.1 251.90L119.3 251.89L117.5 251.83L115.8 251.69L114.0 251.38L112.2 250.15L110.4 248.00L108.6 244.62Z" fill="#000" opacity="1" filter="url(#b1)"/>
<path d="M139.0 243.90L140.6 241.84L142.2 241.56L143.8 241.48L145.4 241.43L147.0 241.41L148.6 241.40L150.2 241.40L151.8 241.40L153.4 241.40L155.0 241.40L156.6 241.41L158.2 241.43L159.8 241.48L161.4 241.56L163.0 241.84L164.6 243.90L164.6 243.90L163.0 245.96L161.4 246.24L159.8 246.32L158.2 246.37L156.6 246.39L155.0 246.40L153.4 246.40L151.8 246.40L150.2 246.40L148.6 246.40L147.0 246.39L145.4 246.37L143.8 246.32L142.2 246.24L140.6 245.96L139.0 243.90Z" fill="#000" stroke="#000" stroke-width="1.2" opacity="0.45" filter="url(#b2)"/>
<path d="M139.0 243.90L140.6 241.84L142.2 241.56L143.8 241.48L145.4 241.43L147.0 241.41L148.6 241.40L150.2 241.40L151.8 241.40L153.4 241.40L155.0 241.40L156.6 241.41L158.2 241.43L159.8 241.48L161.4 241.56L163.0 241.84L164.6 243.90L164.6 243.90L163.0 245.96L161.4 246.24L159.8 246.32L158.2 246.37L156.6 246.39L155.0 246.40L153.4 246.40L151.8 246.40L150.2 246.40L148.6 246.40L147.0 246.39L145.4 246.37L143.8 246.32L142.2 246.24L140.6 245.96L139.0 243.90Z" fill="#000" opacity="1" filter="url(#b0)"/>
<path d="M143.0 249.60L144.1 248.47L145.1 248.38L146.2 248.34L147.2 248.32L148.3 248.31L149.4 248.30L150.4 248.30L151.5 248.30L152.6 248.30L153.6 248.30L154.7 248.31L155.8 248.32L156.8 248.34L157.9 248.38L158.9 248.47L160.0 249.60L160.0 249.60L158.9 250.73L157.9 250.82L156.8 250.86L155.8 250.88L154.7 250.89L153.6 250.90L152.6 250.90L151.5 250.90L150.4 250.90L149.4 250.90L148.3 250.89L147.2 250.88L146.2 250.86L145.1 250.82L144.1 250.73L143.0 249.60Z" fill="#000" opacity="0.85" filter="url(#b1)"/>
<path d="M140.0 246.80L141.4 244.24L142.9 243.80L144.3 243.80L145.8 243.80L147.2 243.80L148.6 243.80L150.1 243.80L151.5 243.80L152.9 243.80L154.4 243.80L155.8 243.80L157.2 243.80L158.7 243.80L160.1 243.80L161.6 244.24L163.0 246.80L163.0 246.80L161.6 249.36L160.1 249.80L158.7 249.80L157.2 249.80L155.8 249.80L154.4 249.80L152.9 249.80L151.5 249.80L150.1 249.80L148.6 249.80L147.2 249.80L145.8 249.80L144.3 249.80L142.9 249.80L141.4 249.36L140.0 246.80Z" fill="#000" opacity="0.4" filter="url(#b1)"/>
<path d="M164.0 244.60L165.8 242.31L167.5 241.98L169.2 241.89L171.0 241.84L172.8 241.81L174.5 241.80L176.2 241.80L178.0 241.80L179.8 241.80L181.5 241.80L183.2 241.81L185.0 241.84L186.8 241.89L188.5 241.98L190.2 242.31L192.0 244.60L192.0 244.60L190.2 246.89L188.5 247.22L186.8 247.31L185.0 247.36L183.2 247.39L181.5 247.40L179.8 247.40L178.0 247.40L176.2 247.40L174.5 247.40L172.8 247.39L171.0 247.36L169.2 247.31L167.5 247.22L165.8 246.89L164.0 244.60Z" fill="#000" stroke="#000" stroke-width="1.2" opacity="0.45" filter="url(#b2)"/>
<path d="M164.0 244.60L165.8 242.31L167.5 241.98L169.2 241.89L171.0 241.84L172.8 241.81L174.5 241.80L176.2 241.80L178.0 241.80L179.8 241.80L181.5 241.80L183.2 241.81L185.0 241.84L186.8 241.89L188.5 241.98L190.2 242.31L192.0 244.60L192.0 244.60L190.2 246.89L188.5 247.22L186.8 247.31L185.0 247.36L183.2 247.39L181.5 247.40L179.8 247.40L178.0 247.40L176.2 247.40L174.5 247.40L172.8 247.39L171.0 247.36L169.2 247.31L167.5 247.22L165.8 246.89L164.0 244.60Z" fill="#000" opacity="1" filter="url(#b0)"/>
<path d="M168.0 249.60L169.2 248.30L170.5 248.30L171.8 248.30L173.0 248.30L174.2 248.30L175.5 248.30L176.8 248.30L178.0 248.30L179.2 248.30L180.5 248.30L181.8 248.30L183.0 248.30L184.2 248.30L185.5 248.30L186.8 248.30L188.0 249.60L188.0 249.60L186.8 250.90L185.5 250.90L184.2 250.90L183.0 250.90L181.8 250.90L180.5 250.90L179.2 250.90L178.0 250.90L176.8 250.90L175.5 250.90L174.2 250.90L173.0 250.90L171.8 250.90L170.5 250.90L169.2 250.90L168.0 249.60Z" fill="#000" opacity="0.35" filter="url(#b1)"/>
</g>
<rect x="20.2" y="224.6" width="177.4" height="42.599999999999994" fill="none" stroke="#1a1a1a" stroke-width="1.6"/>
<text class="s" transform="translate(204.5,252.1) scale(1,1.06)" font-size="14.2">Cytokeratin 18</text>
<rect x="20.2" y="272.3" width="177.4" height="42.30000000000001" fill="#fcfcfc"/>
<clipPath id="c4"><rect x="20.2" y="272.3" width="177.4" height="42.30000000000001"/></clipPath>
<g clip-path="url(#c4)">
<path d="M24.0 295.04L25.8 292.80L27.6 292.80L29.4 292.80L31.2 292.80L33.0 292.80L34.8 292.80L36.6 292.80L38.4 292.80L40.2 292.80L42.0 292.80L43.8 292.80L45.6 292.80L47.4 292.80L49.2 292.80L51.0 292.80L52.8 295.04L52.8 295.04L51.0 297.42L49.2 298.05L47.4 298.23L45.6 298.33L43.8 298.38L42.0 298.40L40.2 298.40L38.4 298.40L36.6 298.40L34.8 298.40L33.0 298.38L31.2 298.33L29.4 298.23L27.6 298.05L25.8 297.42L24.0 295.04Z" fill="#000" stroke="#000" stroke-width="1.2" opacity="0.45" filter="url(#b2)"/>
<path d="M24.0 295.04L25.8 292.80L27.6 292.80L29.4 292.80L31.2 292.80L33.0 292.80L34.8 292.80L36.6 292.80L38.4 292.80L40.2 292.80L42.0 292.80L43.8 292.80L45.6 292.80L47.4 292.80L49.2 292.80L51.0 292.80L52.8 295.04L52.8 295.04L51.0 297.42L49.2 298.05L47.4 298.23L45.6 298.33L43.8 298.38L42.0 298.40L40.2 298.40L38.4 298.40L36.6 298.40L34.8 298.40L33.0 298.38L31.2 298.33L29.4 298.23L27.6 298.05L25.8 297.42L24.0 295.04Z" fill="#000" opacity="1" filter="url(#b0)"/>
<path d="M53.4 294.56L55.0 292.80L56.6 292.80L58.2 292.80L59.9 292.80L61.5 292.80L63.1 292.80L64.7 292.80L66.3 292.80L67.9 292.80L69.5 292.80L71.1 292.80L72.8 292.80L74.4 292.80L76.0 292.80L77.6 292.80L79.2 294.56L79.2 294.56L77.6 296.61L76.0 297.13L74.4 297.32L72.8 297.43L71.1 297.48L69.5 297.50L67.9 297.50L66.3 297.50L64.7 297.50L63.1 297.50L61.5 297.48L59.9 297.43L58.2 297.32L56.6 297.13L55.0 296.61L53.4 294.56Z" fill="#000" stroke="#000" stroke-width="1.2" opacity="0.45" filter="url(#b2)"/>
<path d="M53.4 294.56L55.0 292.80L56.6 292.80L58.2 292.80L59.9 292.80L61.5 292.80L63.1 292.80L64.7 292.80L66.3 292.80L67.9 292.80L69.5 292.80L71.1 292.80L72.8 292.80L74.4 292.80L76.0 292.80L77.6 292.80L79.2 294.56L79.2 294.56L77.6 296.61L76.0 297.13L74.4 297.32L72.8 297.43L71.1 297.48L69.5 297.50L67.9 297.50L66.3 297.50L64.7 297.50L63.1 297.50L61.5 297.48L59.9 297.43L58.2 297.32L56.6 297.13L55.0 296.61L53.4 294.56Z" fill="#000" opacity="1" filter="url(#b0)"/>
<path d="M80.6 294.31L82.3 292.40L84.0 292.40L85.8 292.40L87.5 292.40L89.2 292.40L91.0 292.40L92.7 292.40L94.4 292.40L96.1 292.40L97.8 292.40L99.6 292.40L101.3 292.40L103.0 292.40L104.8 292.40L106.5 292.40L108.2 294.31L108.2 294.31L106.5 296.52L104.8 297.10L103.0 297.31L101.3 297.42L99.6 297.47L97.8 297.50L96.1 297.50L94.4 297.50L92.7 297.50L91.0 297.50L89.2 297.47L87.5 297.42L85.8 297.31L84.0 297.10L82.3 296.52L80.6 294.31Z" fill="#000" stroke="#000" stroke-width="1.2" opacity="0.45" filter="url(#b2)"/>
<path d="M80.6 294.31L82.3 292.40L84.0 292.40L85.8 292.40L87.5 292.40L89.2 292.40L91.0 292.40L92.7 292.40L94.4 292.40L96.1 292.40L97.8 292.40L99.6 292.40L101.3 292.40L103.0 292.40L104.8 292.40L106.5 292.40L108.2 294.31L108.2 294.31L106.5 296.52L104.8 297.10L103.0 297.31L101.3 297.42L99.6 297.47L97.8 297.50L96.1 297.50L94.4 297.50L92.7 297.50L91.0 297.50L89.2 297.47L87.5 297.42L85.8 297.31L84.0 297.10L82.3 296.52L80.6 294.31Z" fill="#000" opacity="1" filter="url(#b0)"/>
<path d="M108.2 294.36L110.0 292.65L111.8 292.70L113.6 292.75L115.5 292.80L117.3 292.85L119.1 292.90L120.9 292.95L122.7 293.00L124.5 293.05L126.3 293.10L128.1 293.15L129.9 293.20L131.8 293.25L133.6 293.30L135.4 293.35L137.2 295.16L137.2 295.16L135.4 297.17L133.6 297.42L131.8 297.52L129.9 297.55L128.1 297.53L126.3 297.50L124.5 297.45L122.7 297.40L120.9 297.35L119.1 297.30L117.3 297.23L115.5 297.15L113.6 297.02L111.8 296.82L110.0 296.47L108.2 294.36Z" fill="#000" stroke="#000" stroke-width="1.2" opacity="0.45" filter="url(#b2)"/>
<path d="M108.2 294.36L110.0 292.65L111.8 292.70L113.6 292.75L115.5 292.80L117.3 292.85L119.1 292.90L120.9 292.95L122.7 293.00L124.5 293.05L126.3 293.10L128.1 293.15L129.9 293.20L131.8 293.25L133.6 293.30L135.4 293.35L137.2 295.16L137.2 295.16L135.4 297.17L133.6 297.42L131.8 297.52L129.9 297.55L128.1 297.53L126.3 297.50L124.5 297.45L122.7 297.40L120.9 297.35L119.1 297.30L117.3 297.23L115.5 297.15L113.6 297.02L111.8 296.82L110.0 296.47L108.2 294.36Z" fill="#000" opacity="1" filter="url(#b0)"/>
<path d="M136.6 295.64L138.4 293.81L140.2 293.82L142.0 293.84L143.8 293.85L145.6 293.86L147.4 293.88L149.2 293.89L150.9 293.90L152.7 293.91L154.5 293.92L156.3 293.94L158.1 293.95L159.9 293.96L161.7 293.97L163.5 293.99L165.3 295.84L165.3 295.84L163.5 297.95L161.7 298.28L159.9 298.42L158.1 298.49L156.3 298.52L154.5 298.52L152.7 298.51L150.9 298.50L149.2 298.49L147.4 298.47L145.6 298.44L143.8 298.39L142.0 298.30L140.2 298.13L138.4 297.77L136.6 295.64Z" fill="#000" stroke="#000" stroke-width="1.2" opacity="0.45" filter="url(#b2)"/>
<path d="M136.6 295.64L138.4 293.81L140.2 293.82L142.0 293.84L143.8 293.85L145.6 293.86L147.4 293.88L149.2 293.89L150.9 293.90L152.7 293.91L154.5 293.92L156.3 293.94L158.1 293.95L159.9 293.96L161.7 293.97L163.5 293.99L165.3 295.84L165.3 295.84L163.5 297.95L161.7 298.28L159.9 298.42L158.1 298.49L156.3 298.52L154.5 298.52L152.7 298.51L150.9 298.50L149.2 298.49L147.4 298.47L145.6 298.44L143.8 298.39L142.0 298.30L140.2 298.13L138.4 297.77L136.6 295.64Z" fill="#000" opacity="1" filter="url(#b0)"/>
<path d="M164.8 296.08L166.6 294.20L168.5 294.20L170.3 294.20L172.1 294.20L173.9 294.20L175.8 294.20L177.6 294.20L179.4 294.20L181.2 294.20L183.1 294.20L184.9 294.20L186.7 294.20L188.5 294.20L190.3 294.20L192.2 294.20L194.0 296.08L194.0 296.08L192.2 298.24L190.3 298.60L188.5 298.76L186.7 298.84L184.9 298.88L183.1 298.90L181.2 298.90L179.4 298.90L177.6 298.90L175.8 298.90L173.9 298.88L172.1 298.84L170.3 298.76L168.5 298.60L166.6 298.24L164.8 296.08Z" fill="#000" stroke="#000" stroke-width="1.2" opacity="0.45" filter="url(#b2)"/>
<path d="M164.8 296.08L166.6 294.20L168.5 294.20L170.3 294.20L172.1 294.20L173.9 294.20L175.8 294.20L177.6 294.20L179.4 294.20L181.2 294.20L183.1 294.20L184.9 294.20L186.7 294.20L188.5 294.20L190.3 294.20L192.2 294.20L194.0 296.08L194.0 296.08L192.2 298.24L190.3 298.60L188.5 298.76L186.7 298.84L184.9 298.88L183.1 298.90L181.2 298.90L179.4 298.90L177.6 298.90L175.8 298.90L173.9 298.88L172.1 298.84L170.3 298.76L168.5 298.60L166.6 298.24L164.8 296.08Z" fill="#000" opacity="1" filter="url(#b0)"/>
<path d="M30.0 295.20L40.0 294.25L50.0 294.30L60.0 294.35L70.0 294.40L80.0 294.45L90.0 294.50L100.0 294.55L110.0 294.60L120.0 294.65L130.0 294.70L140.0 294.75L150.0 294.80L160.0 294.85L170.0 294.90L180.0 294.95L190.0 296.00L190.0 296.00L180.0 296.95L170.0 296.90L160.0 296.85L150.0 296.80L140.0 296.75L130.0 296.70L120.0 296.65L110.0 296.60L100.0 296.55L90.0 296.50L80.0 296.45L70.0 296.40L60.0 296.35L50.0 296.30L40.0 296.25L30.0 295.20Z" fill="#000" opacity="0.95" filter="url(#b0)"/>
</g>
<rect x="20.2" y="272.3" width="177.4" height="42.30000000000001" fill="none" stroke="#1a1a1a" stroke-width="1.6"/>
<text class="s" transform="translate(204.5,298.2) scale(1,1.06)" font-size="14.2">Vimentin</text>
<rect x="20.2" y="318.4" width="177.4" height="43.200000000000045" fill="#f6f6f6"/>
<clipPath id="c5"><rect x="20.2" y="318.4" width="177.4" height="43.200000000000045"/></clipPath>
<g clip-path="url(#c5)">
<path d="M24.0 339.50L25.4 337.54L26.9 336.77L28.3 336.52L29.7 336.39L31.2 336.33L32.6 336.31L34.0 336.30L35.5 336.30L36.9 336.30L38.3 336.31L39.7 336.33L41.2 336.39L42.6 336.52L44.0 336.77L45.5 337.54L46.9 339.50L46.9 339.50L45.5 341.46L44.0 342.23L42.6 342.48L41.2 342.61L39.7 342.67L38.3 342.69L36.9 342.70L35.5 342.70L34.0 342.70L32.6 342.69L31.2 342.67L29.7 342.61L28.3 342.48L26.9 342.23L25.4 341.46L24.0 339.50Z" fill="#000" stroke="#000" stroke-width="1.2" opacity="0.45" filter="url(#b2)"/>
<path d="M24.0 339.50L25.4 337.54L26.9 336.77L28.3 336.52L29.7 336.39L31.2 336.33L32.6 336.31L34.0 336.30L35.5 336.30L36.9 336.30L38.3 336.31L39.7 336.33L41.2 336.39L42.6 336.52L44.0 336.77L45.5 337.54L46.9 339.50L46.9 339.50L45.5 341.46L44.0 342.23L42.6 342.48L41.2 342.61L39.7 342.67L38.3 342.69L36.9 342.70L35.5 342.70L34.0 342.70L32.6 342.69L31.2 342.67L29.7 342.61L28.3 342.48L26.9 342.23L25.4 341.46L24.0 339.50Z" fill="#000" opacity="1" filter="url(#b0)"/>
<path d="M52.2 340.60L53.7 338.30L55.1 337.66L56.6 337.52L58.1 337.45L59.5 337.42L61.0 337.40L62.5 337.40L64.0 337.40L65.4 337.40L66.9 337.40L68.4 337.42L69.8 337.45L71.3 337.52L72.8 337.66L74.2 338.30L75.7 340.60L75.7 340.60L74.2 342.90L72.8 343.54L71.3 343.68L69.8 343.75L68.4 343.78L66.9 343.80L65.4 343.80L64.0 343.80L62.5 343.80L61.0 343.80L59.5 343.78L58.1 343.75L56.6 343.68L55.1 343.54L53.7 342.90L52.2 340.60Z" fill="#000" stroke="#000" stroke-width="1.2" opacity="0.45" filter="url(#b2)"/>
<path d="M52.2 340.60L53.7 338.30L55.1 337.66L56.6 337.52L58.1 337.45L59.5 337.42L61.0 337.40L62.5 337.40L64.0 337.40L65.4 337.40L66.9 337.40L68.4 337.42L69.8 337.45L71.3 337.52L72.8 337.66L74.2 338.30L75.7 340.60L75.7 340.60L74.2 342.90L72.8 343.54L71.3 343.68L69.8 343.75L68.4 343.78L66.9 343.80L65.4 343.80L64.0 343.80L62.5 343.80L61.0 343.80L59.5 343.78L58.1 343.75L56.6 343.68L55.1 343.54L53.7 342.90L52.2 340.60Z" fill="#000" opacity="1" filter="url(#b0)"/>
<path d="M80.0 341.30L81.6 338.88L83.2 338.22L84.7 338.08L86.3 338.00L87.9 337.97L89.5 337.95L91.0 337.95L92.6 337.95L94.2 337.95L95.8 337.95L97.3 337.97L98.9 338.00L100.5 338.08L102.1 338.22L103.6 338.88L105.2 341.30L105.2 341.30L103.6 343.72L102.1 344.38L100.5 344.52L98.9 344.60L97.3 344.63L95.8 344.65L94.2 344.65L92.6 344.65L91.0 344.65L89.5 344.65L87.9 344.63L86.3 344.60L84.7 344.52L83.2 344.38L81.6 343.72L80.0 341.30Z" fill="#000" stroke="#000" stroke-width="1.2" opacity="0.45" filter="url(#b2)"/>
<path d="M80.0 341.30L81.6 338.88L83.2 338.22L84.7 338.08L86.3 338.00L87.9 337.97L89.5 337.95L91.0 337.95L92.6 337.95L94.2 337.95L95.8 337.95L97.3 337.97L98.9 338.00L100.5 338.08L102.1 338.22L103.6 338.88L105.2 341.30L105.2 341.30L103.6 343.72L102.1 344.38L100.5 344.52L98.9 344.60L97.3 344.63L95.8 344.65L94.2 344.65L92.6 344.65L91.0 344.65L89.5 344.65L87.9 344.63L86.3 344.60L84.7 344.52L83.2 344.38L81.6 343.72L80.0 341.30Z" fill="#000" opacity="1" filter="url(#b0)"/>
<path d="M111.4 341.85L112.8 339.50L114.2 338.76L115.7 338.53L117.1 338.38L118.5 338.26L120.0 338.17L121.4 338.08L122.8 338.00L124.2 337.92L125.6 337.84L127.1 337.77L128.5 337.73L129.9 337.72L131.3 337.78L132.8 338.36L134.2 340.55L134.2 340.55L132.8 342.90L131.3 343.64L129.9 343.87L128.5 344.02L127.1 344.14L125.6 344.23L124.2 344.32L122.8 344.40L121.4 344.48L120.0 344.56L118.5 344.63L117.1 344.67L115.7 344.68L114.2 344.62L112.8 344.04L111.4 341.85Z" fill="#000" stroke="#000" stroke-width="1.2" opacity="0.45" filter="url(#b2)"/>
<path d="M111.4 341.85L112.8 339.50L114.2 338.76L115.7 338.53L117.1 338.38L118.5 338.26L120.0 338.17L121.4 338.08L122.8 338.00L124.2 337.92L125.6 337.84L127.1 337.77L128.5 337.73L129.9 337.72L131.3 337.78L132.8 338.36L134.2 340.55L134.2 340.55L132.8 342.90L131.3 343.64L129.9 343.87L128.5 344.02L127.1 344.14L125.6 344.23L124.2 344.32L122.8 344.40L121.4 344.48L120.0 344.56L118.5 344.63L117.1 344.67L115.7 344.68L114.2 344.62L112.8 344.04L111.4 341.85Z" fill="#000" opacity="1" filter="url(#b0)"/>
<path d="M139.1 340.95L140.6 338.77L142.2 338.28L143.7 338.13L145.2 338.02L146.8 337.95L148.3 337.89L149.9 337.84L151.4 337.80L152.9 337.76L154.5 337.72L156.0 337.68L157.5 337.67L159.1 337.69L160.6 337.76L162.2 338.16L163.7 340.25L163.7 340.25L162.2 342.43L160.6 342.92L159.1 343.07L157.5 343.18L156.0 343.25L154.5 343.31L152.9 343.36L151.4 343.40L149.9 343.44L148.3 343.48L146.8 343.52L145.2 343.53L143.7 343.51L142.2 343.44L140.6 343.04L139.1 340.95Z" fill="#000" stroke="#000" stroke-width="1.2" opacity="0.45" filter="url(#b2)"/>
<path d="M139.1 340.95L140.6 338.77L142.2 338.28L143.7 338.13L145.2 338.02L146.8 337.95L148.3 337.89L149.9 337.84L151.4 337.80L152.9 337.76L154.5 337.72L156.0 337.68L157.5 337.67L159.1 337.69L160.6 337.76L162.2 338.16L163.7 340.25L163.7 340.25L162.2 342.43L160.6 342.92L159.1 343.07L157.5 343.18L156.0 343.25L154.5 343.31L152.9 343.36L151.4 343.40L149.9 343.44L148.3 343.48L146.8 343.52L145.2 343.53L143.7 343.51L142.2 343.44L140.6 343.04L139.1 340.95Z" fill="#000" opacity="1" filter="url(#b0)"/>
<path d="M167.7 339.55L169.3 337.32L170.8 336.78L172.4 336.58L173.9 336.42L175.5 336.30L177.0 336.19L178.6 336.09L180.1 336.00L181.7 335.91L183.3 335.82L184.8 335.73L186.4 335.67L187.9 335.64L189.5 335.66L191.0 336.00L192.6 338.05L192.6 338.05L191.0 340.28L189.5 340.82L187.9 341.02L186.4 341.18L184.8 341.30L183.3 341.41L181.7 341.51L180.1 341.60L178.6 341.69L177.0 341.78L175.5 341.87L173.9 341.93L172.4 341.96L170.8 341.94L169.3 341.60L167.7 339.55Z" fill="#000" stroke="#000" stroke-width="1.2" opacity="0.45" filter="url(#b2)"/>
<path d="M167.7 339.55L169.3 337.32L170.8 336.78L172.4 336.58L173.9 336.42L175.5 336.30L177.0 336.19L178.6 336.09L180.1 336.00L181.7 335.91L183.3 335.82L184.8 335.73L186.4 335.67L187.9 335.64L189.5 335.66L191.0 336.00L192.6 338.05L192.6 338.05L191.0 340.28L189.5 340.82L187.9 341.02L186.4 341.18L184.8 341.30L183.3 341.41L181.7 341.51L180.1 341.60L178.6 341.69L177.0 341.78L175.5 341.87L173.9 341.93L172.4 341.96L170.8 341.94L169.3 341.60L167.7 339.55Z" fill="#000" opacity="1" filter="url(#b0)"/>
<path d="M26.0 357.00L27.2 355.75L28.5 355.75L29.8 355.75L31.0 355.75L32.2 355.75L33.5 355.75L34.8 355.75L36.0 355.75L37.2 355.75L38.5 355.75L39.8 355.75L41.0 355.75L42.2 355.75L43.5 355.75L44.8 355.75L46.0 357.00L46.0 357.00L44.8 358.25L43.5 358.25L42.2 358.25L41.0 358.25L39.8 358.25L38.5 358.25L37.2 358.25L36.0 358.25L34.8 358.25L33.5 358.25L32.2 358.25L31.0 358.25L29.8 358.25L28.5 358.25L27.2 358.25L26.0 357.00Z" fill="#000" opacity="0.08" filter="url(#b1)"/>
<path d="M55.0 357.00L56.1 355.76L57.1 355.75L58.2 355.75L59.2 355.75L60.3 355.75L61.4 355.75L62.4 355.75L63.5 355.75L64.6 355.75L65.6 355.75L66.7 355.75L67.8 355.75L68.8 355.75L69.9 355.75L70.9 355.76L72.0 357.00L72.0 357.00L70.9 358.24L69.9 358.25L68.8 358.25L67.8 358.25L66.7 358.25L65.6 358.25L64.6 358.25L63.5 358.25L62.4 358.25L61.4 358.25L60.3 358.25L59.2 358.25L58.2 358.25L57.1 358.25L56.1 358.24L55.0 357.00Z" fill="#000" opacity="0.06" filter="url(#b1)"/>
<path d="M83.0 357.50L84.2 356.25L85.5 356.25L86.8 356.25L88.0 356.25L89.2 356.25L90.5 356.25L91.8 356.25L93.0 356.25L94.2 356.25L95.5 356.25L96.8 356.25L98.0 356.25L99.2 356.25L100.5 356.25L101.8 356.25L103.0 357.50L103.0 357.50L101.8 358.75L100.5 358.75L99.2 358.75L98.0 358.75L96.8 358.75L95.5 358.75L94.2 358.75L93.0 358.75L91.8 358.75L90.5 358.75L89.2 358.75L88.0 358.75L86.8 358.75L85.5 358.75L84.2 358.75L83.0 357.50Z" fill="#000" opacity="0.1" filter="url(#b1)"/>
<path d="M172.0 354.50L173.0 353.28L174.0 353.25L175.0 353.25L176.0 353.25L177.0 353.25L178.0 353.25L179.0 353.25L180.0 353.25L181.0 353.25L182.0 353.25L183.0 353.25L184.0 353.25L185.0 353.25L186.0 353.25L187.0 353.28L188.0 354.50L188.0 354.50L187.0 355.72L186.0 355.75L185.0 355.75L184.0 355.75L183.0 355.75L182.0 355.75L181.0 355.75L180.0 355.75L179.0 355.75L178.0 355.75L177.0 355.75L176.0 355.75L175.0 355.75L174.0 355.75L173.0 355.72L172.0 354.50Z" fill="#000" opacity="0.07" filter="url(#b1)"/>
<path d="M118.8 320.80L118.9 320.46L119.0 320.34L119.1 320.25L119.2 320.19L119.2 320.15L119.3 320.12L119.4 320.11L119.5 320.10L119.6 320.11L119.7 320.12L119.8 320.15L119.8 320.19L119.9 320.25L120.0 320.34L120.1 320.46L120.2 320.80L120.2 320.80L120.1 321.14L120.0 321.26L119.9 321.35L119.8 321.41L119.8 321.45L119.7 321.48L119.6 321.49L119.5 321.50L119.4 321.49L119.3 321.48L119.2 321.45L119.2 321.41L119.1 321.35L119.0 321.26L118.9 321.14L118.8 320.80Z" fill="#000" opacity="0.8" filter="url(#b0)"/>
</g>
<rect x="20.2" y="318.4" width="177.4" height="43.200000000000045" fill="none" stroke="#1a1a1a" stroke-width="1.6"/>
<text class="s" transform="translate(204.5,345.3) scale(1,1.06)" font-size="14.2">GAPDH</text>
<text class="s" font-size="14" text-anchor="end" transform="translate(35.6,366) scale(1,1.06) rotate(-45)" x="0" y="10">Control</text>
<text class="s" font-size="14" text-anchor="end" transform="translate(65.4,366) scale(1,1.06) rotate(-45)" x="0" y="10">Model</text>
<text class="s" font-size="14" text-anchor="end" transform="translate(95.1,366.7) scale(1,1.06) rotate(-45)" x="0" y="10">ECM+sPL</text>
<text class="s" font-size="14" text-anchor="end" transform="translate(122.9,365.6) scale(1,1.06) rotate(-45)" x="0" y="10">ECM+cell</text>
<text class="s" font-size="14" text-anchor="end" transform="translate(152.4,366) scale(1,1.06) rotate(-45)" x="0" y="10">Gel+sPL</text>
<text class="s" font-size="14" text-anchor="end" transform="translate(182.4,365.8) scale(1,1.06) rotate(-45)" x="0" y="10">Gel+cell</text>
<path d="M345.50 33.55V27.35M340.80 27.35H350.20" stroke="#000" stroke-width="1.4" fill="none"/>
<rect x="336.75" y="33.55" width="17.5" height="83.95" fill="url(#h)"/>
<path d="M336.75 117.5V33.55H354.25V117.5" fill="none" stroke="#000" stroke-width="1.5" stroke-linejoin="round"/>
<path d="M345.50 117.5v4.3" stroke="#444" stroke-width="0.9"/>
<text class="a" style="font-weight:normal" font-size="9.5" letter-spacing="-0.1" text-anchor="middle" x="346.60" y="27.20">*</text>
<text class="s" stroke="#000" stroke-width="0.3" font-size="12.3" letter-spacing="-0.55" text-anchor="end" transform="translate(343.50,127.60) scale(1,1.04) rotate(-45)" x="0" y="8">Control</text>
<path d="M371.48 64.33V60.00M366.78 60.00H376.18" stroke="#000" stroke-width="1.4" fill="none"/>
<rect x="362.73" y="64.33" width="17.5" height="53.17" fill="url(#h)"/>
<path d="M362.73 117.5V64.33H380.23V117.5" fill="none" stroke="#000" stroke-width="1.5" stroke-linejoin="round"/>
<path d="M371.48 117.5v4.3" stroke="#444" stroke-width="0.9"/>
<text class="s" stroke="#000" stroke-width="0.3" font-size="12.3" letter-spacing="-0.55" text-anchor="end" transform="translate(369.48,127.60) scale(1,1.04) rotate(-45)" x="0" y="8">Model</text>
<path d="M397.46 47.81V41.26M392.76 41.26H402.16" stroke="#000" stroke-width="1.4" fill="none"/>
<rect x="388.71" y="47.81" width="17.5" height="69.69" fill="url(#h)"/>
<path d="M388.71 117.5V47.81H406.21V117.5" fill="none" stroke="#000" stroke-width="1.5" stroke-linejoin="round"/>
<path d="M397.46 117.5v4.3" stroke="#444" stroke-width="0.9"/>
<text class="s" stroke="#000" stroke-width="0.3" font-size="12.3" letter-spacing="-0.55" text-anchor="end" transform="translate(395.46,127.60) scale(1,1.04) rotate(-45)" x="0" y="8">ECM+sPL</text>
<path d="M423.44 49.53V43.67M418.74 43.67H428.14" stroke="#000" stroke-width="1.4" fill="none"/>
<rect x="414.69" y="49.53" width="17.5" height="67.97" fill="url(#h)"/>
<path d="M414.69 117.5V49.53H432.19V117.5" fill="none" stroke="#000" stroke-width="1.5" stroke-linejoin="round"/>
<path d="M423.44 117.5v4.3" stroke="#444" stroke-width="0.9"/>
<text class="s" stroke="#000" stroke-width="0.3" font-size="12.3" letter-spacing="-0.55" text-anchor="end" transform="translate(421.44,127.60) scale(1,1.04) rotate(-45)" x="0" y="8">ECM+cell</text>
<path d="M449.42 42.71V36.51M444.72 36.51H454.12" stroke="#000" stroke-width="1.4" fill="none"/>
<rect x="440.67" y="42.71" width="17.5" height="74.79" fill="url(#h)"/>
<path d="M440.67 117.5V42.71H458.17V117.5" fill="none" stroke="#000" stroke-width="1.5" stroke-linejoin="round"/>
<path d="M449.42 117.5v4.3" stroke="#444" stroke-width="0.9"/>
<text class="a" style="font-weight:normal" font-size="9.5" letter-spacing="-0.1" text-anchor="middle" x="450.52" y="36.10">*</text>
<text class="s" stroke="#000" stroke-width="0.3" font-size="12.3" letter-spacing="-0.55" text-anchor="end" transform="translate(447.42,127.60) scale(1,1.04) rotate(-45)" x="0" y="8">Gel+sPL</text>
<path d="M475.40 35.00V28.11M470.70 28.11H480.10" stroke="#000" stroke-width="1.4" fill="none"/>
<rect x="466.65" y="35.00" width="17.5" height="82.50" fill="url(#h)"/>
<path d="M466.65 117.5V35.00H484.15V117.5" fill="none" stroke="#000" stroke-width="1.5" stroke-linejoin="round"/>
<path d="M475.40 117.5v4.3" stroke="#444" stroke-width="0.9"/>
<text class="a" style="font-weight:normal" font-size="9.5" letter-spacing="-0.1" text-anchor="middle" x="476.50" y="27.50">*</text>
<text class="s" stroke="#000" stroke-width="0.3" font-size="12.3" letter-spacing="-0.55" text-anchor="end" transform="translate(473.40,127.60) scale(1,1.04) rotate(-45)" x="0" y="8">Gel+cell</text>
<path d="M332.5 13.7V117.5H488.5" stroke="#444" stroke-width="0.9" fill="none"/>
<path d="M327.5 117.50H332.5" stroke="#444" stroke-width="0.9"/>
<text class="a" style="font-weight:bold" font-size="7.4" text-anchor="end" x="327.1" y="119.94" stroke="#000" stroke-width="0.25">0.0</text>
<path d="M327.5 83.07H332.5" stroke="#444" stroke-width="0.9"/>
<text class="a" style="font-weight:bold" font-size="7.4" text-anchor="end" x="327.1" y="85.51" stroke="#000" stroke-width="0.25">0.5</text>
<path d="M327.5 48.63H332.5" stroke="#444" stroke-width="0.9"/>
<text class="a" style="font-weight:bold" font-size="7.4" text-anchor="end" x="327.1" y="51.08" stroke="#000" stroke-width="0.25">1.0</text>
<path d="M327.5 14.20H332.5" stroke="#444" stroke-width="0.9"/>
<text class="a" style="font-weight:bold" font-size="7.4" text-anchor="end" x="327.1" y="16.64" stroke="#000" stroke-width="0.25">1.5</text>
<text class="s" stroke="#000" stroke-width="0.25" font-size="12" textLength="50" lengthAdjust="spacingAndGlyphs" text-anchor="middle" transform="translate(310.7,66.9) rotate(-90)" x="0" y="0">CyclinD1</text>
<path d="M532.80 76.47V75.85M528.10 75.85H537.50" stroke="#000" stroke-width="1.4" fill="none"/>
<rect x="524.05" y="76.47" width="17.5" height="41.03" fill="url(#h)"/>
<path d="M524.05 117.5V76.47H541.55V117.5" fill="none" stroke="#000" stroke-width="1.5" stroke-linejoin="round"/>
<path d="M532.80 117.5v4.3" stroke="#444" stroke-width="0.9"/>
<text class="s" stroke="#000" stroke-width="0.3" font-size="12.3" letter-spacing="-0.55" text-anchor="end" transform="translate(530.80,127.60) scale(1,1.04) rotate(-45)" x="0" y="8">Control</text>
<path d="M558.75 78.12V76.88M554.05 76.88H563.45" stroke="#000" stroke-width="1.4" fill="none"/>
<rect x="550.00" y="78.12" width="17.5" height="39.38" fill="url(#h)"/>
<path d="M550.00 117.5V78.12H567.50V117.5" fill="none" stroke="#000" stroke-width="1.5" stroke-linejoin="round"/>
<path d="M558.75 117.5v4.3" stroke="#444" stroke-width="0.9"/>
<text class="s" stroke="#000" stroke-width="0.3" font-size="12.3" letter-spacing="-0.55" text-anchor="end" transform="translate(556.75,127.60) scale(1,1.04) rotate(-45)" x="0" y="8">Model</text>
<path d="M584.70 49.66V49.04M580.00 49.04H589.40" stroke="#000" stroke-width="1.4" fill="none"/>
<rect x="575.95" y="49.66" width="17.5" height="67.84" fill="url(#h)"/>
<path d="M575.95 117.5V49.66H593.45V117.5" fill="none" stroke="#000" stroke-width="1.5" stroke-linejoin="round"/>
<path d="M584.70 117.5v4.3" stroke="#444" stroke-width="0.9"/>
<text class="a" style="font-weight:normal" font-size="9.5" letter-spacing="-0.1" text-anchor="middle" x="585.80" y="43.20">***</text>
<text class="s" stroke="#000" stroke-width="0.3" font-size="12.3" letter-spacing="-0.55" text-anchor="end" transform="translate(582.70,127.60) scale(1,1.04) rotate(-45)" x="0" y="8">ECM+sPL</text>
<path d="M610.65 40.79V39.97M605.95 39.97H615.35" stroke="#000" stroke-width="1.4" fill="none"/>
<rect x="601.90" y="40.79" width="17.5" height="76.71" fill="url(#h)"/>
<path d="M601.90 117.5V40.79H619.40V117.5" fill="none" stroke="#000" stroke-width="1.5" stroke-linejoin="round"/>
<path d="M610.65 117.5v4.3" stroke="#444" stroke-width="0.9"/>
<text class="a" style="font-weight:normal" font-size="9.5" letter-spacing="-0.1" text-anchor="middle" x="611.75" y="34.80">***</text>
<text class="s" stroke="#000" stroke-width="0.3" font-size="12.3" letter-spacing="-0.55" text-anchor="end" transform="translate(608.65,127.60) scale(1,1.04) rotate(-45)" x="0" y="8">ECM+cell</text>
<path d="M636.60 48.42V47.80M631.90 47.80H641.30" stroke="#000" stroke-width="1.4" fill="none"/>
<rect x="627.85" y="48.42" width="17.5" height="69.08" fill="url(#h)"/>
<path d="M627.85 117.5V48.42H645.35V117.5" fill="none" stroke="#000" stroke-width="1.5" stroke-linejoin="round"/>
<path d="M636.60 117.5v4.3" stroke="#444" stroke-width="0.9"/>
<text class="a" style="font-weight:normal" font-size="9.5" letter-spacing="-0.1" text-anchor="middle" x="637.70" y="42.20">***</text>
<text class="s" stroke="#000" stroke-width="0.3" font-size="12.3" letter-spacing="-0.55" text-anchor="end" transform="translate(634.60,127.60) scale(1,1.04) rotate(-45)" x="0" y="8">Gel+sPL</text>
<path d="M662.55 39.56V39.14M657.85 39.14H667.25" stroke="#000" stroke-width="1.4" fill="none"/>
<rect x="653.80" y="39.56" width="17.5" height="77.94" fill="url(#h)"/>
<path d="M653.80 117.5V39.56H671.30V117.5" fill="none" stroke="#000" stroke-width="1.5" stroke-linejoin="round"/>
<path d="M662.55 117.5v4.3" stroke="#444" stroke-width="0.9"/>
<text class="a" style="font-weight:normal" font-size="9.5" letter-spacing="-0.1" text-anchor="middle" x="663.65" y="33.60">***</text>
<text class="s" stroke="#000" stroke-width="0.3" font-size="12.3" letter-spacing="-0.55" text-anchor="end" transform="translate(660.55,127.60) scale(1,1.04) rotate(-45)" x="0" y="8">Gel+cell</text>
<path d="M519.6 13.9V117.5H675.8" stroke="#444" stroke-width="0.9" fill="none"/>
<path d="M514.6 117.50H519.6" stroke="#444" stroke-width="0.9"/>
<text class="a" style="font-weight:bold" font-size="7.4" text-anchor="end" x="514.2" y="119.94" stroke="#000" stroke-width="0.25">0</text>
<path d="M514.6 96.88H519.6" stroke="#444" stroke-width="0.9"/>
<text class="a" style="font-weight:bold" font-size="7.4" text-anchor="end" x="514.2" y="99.32" stroke="#000" stroke-width="0.25">1</text>
<path d="M514.6 76.26H519.6" stroke="#444" stroke-width="0.9"/>
<text class="a" style="font-weight:bold" font-size="7.4" text-anchor="end" x="514.2" y="78.70" stroke="#000" stroke-width="0.25">2</text>
<path d="M514.6 55.64H519.6" stroke="#444" stroke-width="0.9"/>
<text class="a" style="font-weight:bold" font-size="7.4" text-anchor="end" x="514.2" y="58.08" stroke="#000" stroke-width="0.25">3</text>
<path d="M514.6 35.02H519.6" stroke="#444" stroke-width="0.9"/>
<text class="a" style="font-weight:bold" font-size="7.4" text-anchor="end" x="514.2" y="37.46" stroke="#000" stroke-width="0.25">4</text>
<path d="M514.6 14.40H519.6" stroke="#444" stroke-width="0.9"/>
<text class="a" style="font-weight:bold" font-size="7.4" text-anchor="end" x="514.2" y="16.84" stroke="#000" stroke-width="0.25">5</text>
<text class="s" stroke="#000" stroke-width="0.25" font-size="12" textLength="28.6" lengthAdjust="spacingAndGlyphs" text-anchor="middle" transform="translate(504,66.6) rotate(-90)" x="0" y="0">CD34</text>
<path d="M345.50 193.60V191.41M340.80 191.41H350.20" stroke="#000" stroke-width="1.4" fill="none"/>
<rect x="337.10" y="193.60" width="16.8" height="80.30" fill="url(#h)"/>
<path d="M337.10 273.9V193.60H353.90V273.9" fill="none" stroke="#000" stroke-width="1.5" stroke-linejoin="round"/>
<path d="M345.50 273.9v4.3" stroke="#444" stroke-width="0.9"/>
<text class="a" style="font-weight:normal" font-size="9.5" letter-spacing="-0.1" text-anchor="middle" x="346.60" y="186.80">***</text>
<text class="s" stroke="#000" stroke-width="0.3" font-size="12.3" letter-spacing="-0.55" text-anchor="end" transform="translate(343.50,284.00) scale(1,1.04) rotate(-45)" x="0" y="8">Control</text>
<path d="M371.22 235.46V234.91M366.52 234.91H375.92" stroke="#000" stroke-width="1.4" fill="none"/>
<rect x="362.82" y="235.46" width="16.8" height="38.44" fill="url(#h)"/>
<path d="M362.82 273.9V235.46H379.62V273.9" fill="none" stroke="#000" stroke-width="1.5" stroke-linejoin="round"/>
<path d="M371.22 273.9v4.3" stroke="#444" stroke-width="0.9"/>
<text class="s" stroke="#000" stroke-width="0.3" font-size="12.3" letter-spacing="-0.55" text-anchor="end" transform="translate(369.22,284.00) scale(1,1.04) rotate(-45)" x="0" y="8">Model</text>
<path d="M396.94 206.87V204.13M392.24 204.13H401.64" stroke="#000" stroke-width="1.4" fill="none"/>
<rect x="388.54" y="206.87" width="16.8" height="67.03" fill="url(#h)"/>
<path d="M388.54 273.9V206.87H405.34V273.9" fill="none" stroke="#000" stroke-width="1.5" stroke-linejoin="round"/>
<path d="M396.94 273.9v4.3" stroke="#444" stroke-width="0.9"/>
<text class="a" style="font-weight:normal" font-size="9.5" letter-spacing="-0.1" text-anchor="middle" x="398.04" y="200.50">***</text>
<text class="s" stroke="#000" stroke-width="0.3" font-size="12.3" letter-spacing="-0.55" text-anchor="end" transform="translate(394.94,284.00) scale(1,1.04) rotate(-45)" x="0" y="8">ECM+sPL</text>
<path d="M422.66 191.41V190.79M417.96 190.79H427.36" stroke="#000" stroke-width="1.4" fill="none"/>
<rect x="414.26" y="191.41" width="16.8" height="82.49" fill="url(#h)"/>
<path d="M414.26 273.9V191.41H431.06V273.9" fill="none" stroke="#000" stroke-width="1.5" stroke-linejoin="round"/>
<path d="M422.66 273.9v4.3" stroke="#444" stroke-width="0.9"/>
<text class="a" style="font-weight:normal" font-size="9.5" letter-spacing="-0.1" text-anchor="middle" x="423.76" y="184.80">***</text>
<text class="s" stroke="#000" stroke-width="0.3" font-size="12.3" letter-spacing="-0.55" text-anchor="end" transform="translate(420.66,284.00) scale(1,1.04) rotate(-45)" x="0" y="8">ECM+cell</text>
<path d="M448.38 210.49V207.76M443.68 207.76H453.08" stroke="#000" stroke-width="1.4" fill="none"/>
<rect x="439.98" y="210.49" width="16.8" height="63.41" fill="url(#h)"/>
<path d="M439.98 273.9V210.49H456.78V273.9" fill="none" stroke="#000" stroke-width="1.5" stroke-linejoin="round"/>
<path d="M448.38 273.9v4.3" stroke="#444" stroke-width="0.9"/>
<text class="a" style="font-weight:normal" font-size="9.5" letter-spacing="-0.1" text-anchor="middle" x="449.48" y="204.80">***</text>
<text class="s" stroke="#000" stroke-width="0.3" font-size="12.3" letter-spacing="-0.55" text-anchor="end" transform="translate(446.38,284.00) scale(1,1.04) rotate(-45)" x="0" y="8">Gel+sPL</text>
<path d="M474.10 215.42V214.53M469.40 214.53H478.80" stroke="#000" stroke-width="1.4" fill="none"/>
<rect x="465.70" y="215.42" width="16.8" height="58.48" fill="url(#h)"/>
<path d="M465.70 273.9V215.42H482.50V273.9" fill="none" stroke="#000" stroke-width="1.5" stroke-linejoin="round"/>
<path d="M474.10 273.9v4.3" stroke="#444" stroke-width="0.9"/>
<text class="a" style="font-weight:normal" font-size="9.5" letter-spacing="-0.1" text-anchor="middle" x="475.20" y="210.80">***</text>
<text class="s" stroke="#000" stroke-width="0.3" font-size="12.3" letter-spacing="-0.55" text-anchor="end" transform="translate(472.10,284.00) scale(1,1.04) rotate(-45)" x="0" y="8">Gel+cell</text>
<path d="M332.5 170.8V273.9H488" stroke="#444" stroke-width="0.9" fill="none"/>
<path d="M327.5 273.90H332.5" stroke="#444" stroke-width="0.9"/>
<text class="a" style="font-weight:normal" font-size="7.7" text-anchor="end" x="327.1" y="276.44">0.0</text>
<path d="M327.5 239.70H332.5" stroke="#444" stroke-width="0.9"/>
<text class="a" style="font-weight:normal" font-size="7.7" text-anchor="end" x="327.1" y="242.24">0.5</text>
<path d="M327.5 205.50H332.5" stroke="#444" stroke-width="0.9"/>
<text class="a" style="font-weight:normal" font-size="7.7" text-anchor="end" x="327.1" y="208.04">1.0</text>
<path d="M327.5 171.30H332.5" stroke="#444" stroke-width="0.9"/>
<text class="a" style="font-weight:normal" font-size="7.7" text-anchor="end" x="327.1" y="173.84">1.5</text>
<text class="s" stroke="#000" stroke-width="0.25" font-size="12" textLength="59.7" lengthAdjust="spacingAndGlyphs" text-anchor="middle" transform="translate(311.2,223.5) rotate(-90)" x="0" y="0">Pan-keratin</text>
<path d="M539.30 230.46V227.36M534.60 227.36H544.00" stroke="#000" stroke-width="1.4" fill="none"/>
<rect x="530.75" y="230.46" width="17.1" height="45.34" fill="url(#h)"/>
<path d="M530.75 275.8V230.46H547.85V275.8" fill="none" stroke="#000" stroke-width="1.5" stroke-linejoin="round"/>
<path d="M539.30 275.8v4.3" stroke="#444" stroke-width="0.9"/>
<text class="a" style="font-weight:normal" font-size="9.5" letter-spacing="-0.1" text-anchor="middle" x="540.40" y="225.10">***</text>
<text class="s" stroke="#000" stroke-width="0.3" font-size="12.3" letter-spacing="-0.55" text-anchor="end" transform="translate(537.30,285.90) scale(1,1.04) rotate(-45)" x="0" y="8">Control</text>
<path d="M565.29 256.95V253.85M560.59 253.85H569.99" stroke="#000" stroke-width="1.4" fill="none"/>
<rect x="556.74" y="256.95" width="17.1" height="18.85" fill="url(#h)"/>
<path d="M556.74 275.8V256.95H573.84V275.8" fill="none" stroke="#000" stroke-width="1.5" stroke-linejoin="round"/>
<path d="M565.29 275.8v4.3" stroke="#444" stroke-width="0.9"/>
<text class="s" stroke="#000" stroke-width="0.3" font-size="12.3" letter-spacing="-0.55" text-anchor="end" transform="translate(563.29,285.90) scale(1,1.04) rotate(-45)" x="0" y="8">Model</text>
<path d="M591.28 201.50V199.29M586.58 199.29H595.98" stroke="#000" stroke-width="1.4" fill="none"/>
<rect x="582.73" y="201.50" width="17.1" height="74.30" fill="url(#h)"/>
<path d="M582.73 275.8V201.50H599.83V275.8" fill="none" stroke="#000" stroke-width="1.5" stroke-linejoin="round"/>
<path d="M591.28 275.8v4.3" stroke="#444" stroke-width="0.9"/>
<text class="a" style="font-weight:normal" font-size="9.5" letter-spacing="-0.1" text-anchor="middle" x="592.38" y="195.30">***</text>
<text class="s" stroke="#000" stroke-width="0.3" font-size="12.3" letter-spacing="-0.55" text-anchor="end" transform="translate(589.28,285.90) scale(1,1.04) rotate(-45)" x="0" y="8">ECM+sPL</text>
<path d="M617.27 190.63V189.73M612.57 189.73H621.97" stroke="#000" stroke-width="1.4" fill="none"/>
<rect x="608.72" y="190.63" width="17.1" height="85.17" fill="url(#h)"/>
<path d="M608.72 275.8V190.63H625.82V275.8" fill="none" stroke="#000" stroke-width="1.5" stroke-linejoin="round"/>
<path d="M617.27 275.8v4.3" stroke="#444" stroke-width="0.9"/>
<text class="a" style="font-weight:normal" font-size="9.5" letter-spacing="-0.1" text-anchor="middle" x="618.37" y="186.10">***</text>
<text class="s" stroke="#000" stroke-width="0.3" font-size="12.3" letter-spacing="-0.55" text-anchor="end" transform="translate(615.27,285.90) scale(1,1.04) rotate(-45)" x="0" y="8">ECM+cell</text>
<path d="M643.26 221.79V219.04M638.56 219.04H647.96" stroke="#000" stroke-width="1.4" fill="none"/>
<rect x="634.71" y="221.79" width="17.1" height="54.01" fill="url(#h)"/>
<path d="M634.71 275.8V221.79H651.81V275.8" fill="none" stroke="#000" stroke-width="1.5" stroke-linejoin="round"/>
<path d="M643.26 275.8v4.3" stroke="#444" stroke-width="0.9"/>
<text class="a" style="font-weight:normal" font-size="9.5" letter-spacing="-0.1" text-anchor="middle" x="644.36" y="216.80">***</text>
<text class="s" stroke="#000" stroke-width="0.3" font-size="12.3" letter-spacing="-0.55" text-anchor="end" transform="translate(641.26,285.90) scale(1,1.04) rotate(-45)" x="0" y="8">Gel+sPL</text>
<path d="M669.25 217.53V215.05M664.55 215.05H673.95" stroke="#000" stroke-width="1.4" fill="none"/>
<rect x="660.70" y="217.53" width="17.1" height="58.27" fill="url(#h)"/>
<path d="M660.70 275.8V217.53H677.80V275.8" fill="none" stroke="#000" stroke-width="1.5" stroke-linejoin="round"/>
<path d="M669.25 275.8v4.3" stroke="#444" stroke-width="0.9"/>
<text class="a" style="font-weight:normal" font-size="9.5" letter-spacing="-0.1" text-anchor="middle" x="670.35" y="212.80">***</text>
<text class="s" stroke="#000" stroke-width="0.3" font-size="12.3" letter-spacing="-0.55" text-anchor="end" transform="translate(667.25,285.90) scale(1,1.04) rotate(-45)" x="0" y="8">Gel+cell</text>
<path d="M526.5 172.1V275.8H682.8" stroke="#444" stroke-width="0.9" fill="none"/>
<path d="M521.5 275.80H526.5" stroke="#444" stroke-width="0.9"/>
<text class="a" style="font-weight:bold" font-size="7.7" text-anchor="end" x="521.1" y="278.34" stroke="#000" stroke-width="0.25">0.0</text>
<path d="M521.5 241.40H526.5" stroke="#444" stroke-width="0.9"/>
<text class="a" style="font-weight:bold" font-size="7.7" text-anchor="end" x="521.1" y="243.94" stroke="#000" stroke-width="0.25">0.5</text>
<path d="M521.5 207.00H526.5" stroke="#444" stroke-width="0.9"/>
<text class="a" style="font-weight:bold" font-size="7.7" text-anchor="end" x="521.1" y="209.54" stroke="#000" stroke-width="0.25">1.0</text>
<path d="M521.5 172.60H526.5" stroke="#444" stroke-width="0.9"/>
<text class="a" style="font-weight:bold" font-size="7.7" text-anchor="end" x="521.1" y="175.14" stroke="#000" stroke-width="0.25">1.5</text>
<text class="s" stroke="#000" stroke-width="0.25" font-size="12" textLength="76.7" lengthAdjust="spacingAndGlyphs" text-anchor="middle" transform="translate(503.5,225.2) rotate(-90)" x="0" y="0">Cytokeratin 18</text>
<path d="M345.50 339.01V338.46M340.80 338.46H350.20" stroke="#000" stroke-width="1.4" fill="none"/>
<rect x="336.75" y="339.01" width="17.5" height="93.89" fill="url(#h)"/>
<path d="M336.75 432.9V339.01H354.25V432.9" fill="none" stroke="#000" stroke-width="1.5" stroke-linejoin="round"/>
<path d="M345.50 432.9v4.3" stroke="#444" stroke-width="0.9"/>
<text class="a" style="font-weight:normal" font-size="9.5" letter-spacing="-0.1" text-anchor="middle" x="346.60" y="335.20">***</text>
<text class="s" stroke="#000" stroke-width="0.3" font-size="12.3" letter-spacing="-0.55" text-anchor="end" transform="translate(343.50,443.00) scale(1,1.04) rotate(-45)" x="0" y="8">Control</text>
<path d="M371.48 361.07V360.25M366.78 360.25H376.18" stroke="#000" stroke-width="1.4" fill="none"/>
<rect x="362.73" y="361.07" width="17.5" height="71.83" fill="url(#h)"/>
<path d="M362.73 432.9V361.07H380.23V432.9" fill="none" stroke="#000" stroke-width="1.5" stroke-linejoin="round"/>
<path d="M371.48 432.9v4.3" stroke="#444" stroke-width="0.9"/>
<text class="s" stroke="#000" stroke-width="0.3" font-size="12.3" letter-spacing="-0.55" text-anchor="end" transform="translate(369.48,443.00) scale(1,1.04) rotate(-45)" x="0" y="8">Model</text>
<path d="M397.46 348.77V348.08M392.76 348.08H402.16" stroke="#000" stroke-width="1.4" fill="none"/>
<rect x="388.71" y="348.77" width="17.5" height="84.13" fill="url(#h)"/>
<path d="M388.71 432.9V348.77H406.21V432.9" fill="none" stroke="#000" stroke-width="1.5" stroke-linejoin="round"/>
<path d="M397.46 432.9v4.3" stroke="#444" stroke-width="0.9"/>
<text class="a" style="font-weight:normal" font-size="9.5" letter-spacing="-0.1" text-anchor="middle" x="398.56" y="343.80">***</text>
<text class="s" stroke="#000" stroke-width="0.3" font-size="12.3" letter-spacing="-0.55" text-anchor="end" transform="translate(395.46,443.00) scale(1,1.04) rotate(-45)" x="0" y="8">ECM+sPL</text>
<path d="M423.44 348.77V347.26M418.74 347.26H428.14" stroke="#000" stroke-width="1.4" fill="none"/>
<rect x="414.69" y="348.77" width="17.5" height="84.13" fill="url(#h)"/>
<path d="M414.69 432.9V348.77H432.19V432.9" fill="none" stroke="#000" stroke-width="1.5" stroke-linejoin="round"/>
<path d="M423.44 432.9v4.3" stroke="#444" stroke-width="0.9"/>
<text class="a" style="font-weight:normal" font-size="9.5" letter-spacing="-0.1" text-anchor="middle" x="424.54" y="343.30">***</text>
<text class="s" stroke="#000" stroke-width="0.3" font-size="12.3" letter-spacing="-0.55" text-anchor="end" transform="translate(421.44,443.00) scale(1,1.04) rotate(-45)" x="0" y="8">ECM+cell</text>
<path d="M449.42 346.64V345.13M444.72 345.13H454.12" stroke="#000" stroke-width="1.4" fill="none"/>
<rect x="440.67" y="346.64" width="17.5" height="86.26" fill="url(#h)"/>
<path d="M440.67 432.9V346.64H458.17V432.9" fill="none" stroke="#000" stroke-width="1.5" stroke-linejoin="round"/>
<path d="M449.42 432.9v4.3" stroke="#444" stroke-width="0.9"/>
<text class="a" style="font-weight:normal" font-size="9.5" letter-spacing="-0.1" text-anchor="middle" x="450.52" y="339.60">***</text>
<text class="s" stroke="#000" stroke-width="0.3" font-size="12.3" letter-spacing="-0.55" text-anchor="end" transform="translate(447.42,443.00) scale(1,1.04) rotate(-45)" x="0" y="8">Gel+sPL</text>
<path d="M475.40 352.21V350.69M470.70 350.69H480.10" stroke="#000" stroke-width="1.4" fill="none"/>
<rect x="466.65" y="352.21" width="17.5" height="80.69" fill="url(#h)"/>
<path d="M466.65 432.9V352.21H484.15V432.9" fill="none" stroke="#000" stroke-width="1.5" stroke-linejoin="round"/>
<path d="M475.40 432.9v4.3" stroke="#444" stroke-width="0.9"/>
<text class="a" style="font-weight:normal" font-size="9.5" letter-spacing="-0.1" text-anchor="middle" x="476.50" y="346.10">**</text>
<text class="s" stroke="#000" stroke-width="0.3" font-size="12.3" letter-spacing="-0.55" text-anchor="end" transform="translate(473.40,443.00) scale(1,1.04) rotate(-45)" x="0" y="8">Gel+cell</text>
<path d="M332.5 329.3V432.9H488.5" stroke="#444" stroke-width="0.9" fill="none"/>
<path d="M327.5 432.90H332.5" stroke="#444" stroke-width="0.9"/>
<text class="a" style="font-weight:bold" font-size="7.4" text-anchor="end" x="327.1" y="435.34" stroke="#000" stroke-width="0.25">0.0</text>
<path d="M327.5 398.53H332.5" stroke="#444" stroke-width="0.9"/>
<text class="a" style="font-weight:bold" font-size="7.4" text-anchor="end" x="327.1" y="400.98" stroke="#000" stroke-width="0.25">0.5</text>
<path d="M327.5 364.17H332.5" stroke="#444" stroke-width="0.9"/>
<text class="a" style="font-weight:bold" font-size="7.4" text-anchor="end" x="327.1" y="366.61" stroke="#000" stroke-width="0.25">1.0</text>
<path d="M327.5 329.80H332.5" stroke="#444" stroke-width="0.9"/>
<text class="a" style="font-weight:bold" font-size="7.4" text-anchor="end" x="327.1" y="332.24" stroke="#000" stroke-width="0.25">1.5</text>
<text class="s" stroke="#000" stroke-width="0.25" font-size="12" textLength="47.3" lengthAdjust="spacingAndGlyphs" text-anchor="middle" transform="translate(311.2,381.4) rotate(-90)" x="0" y="0">Vimentin</text>
</svg></body></html>
